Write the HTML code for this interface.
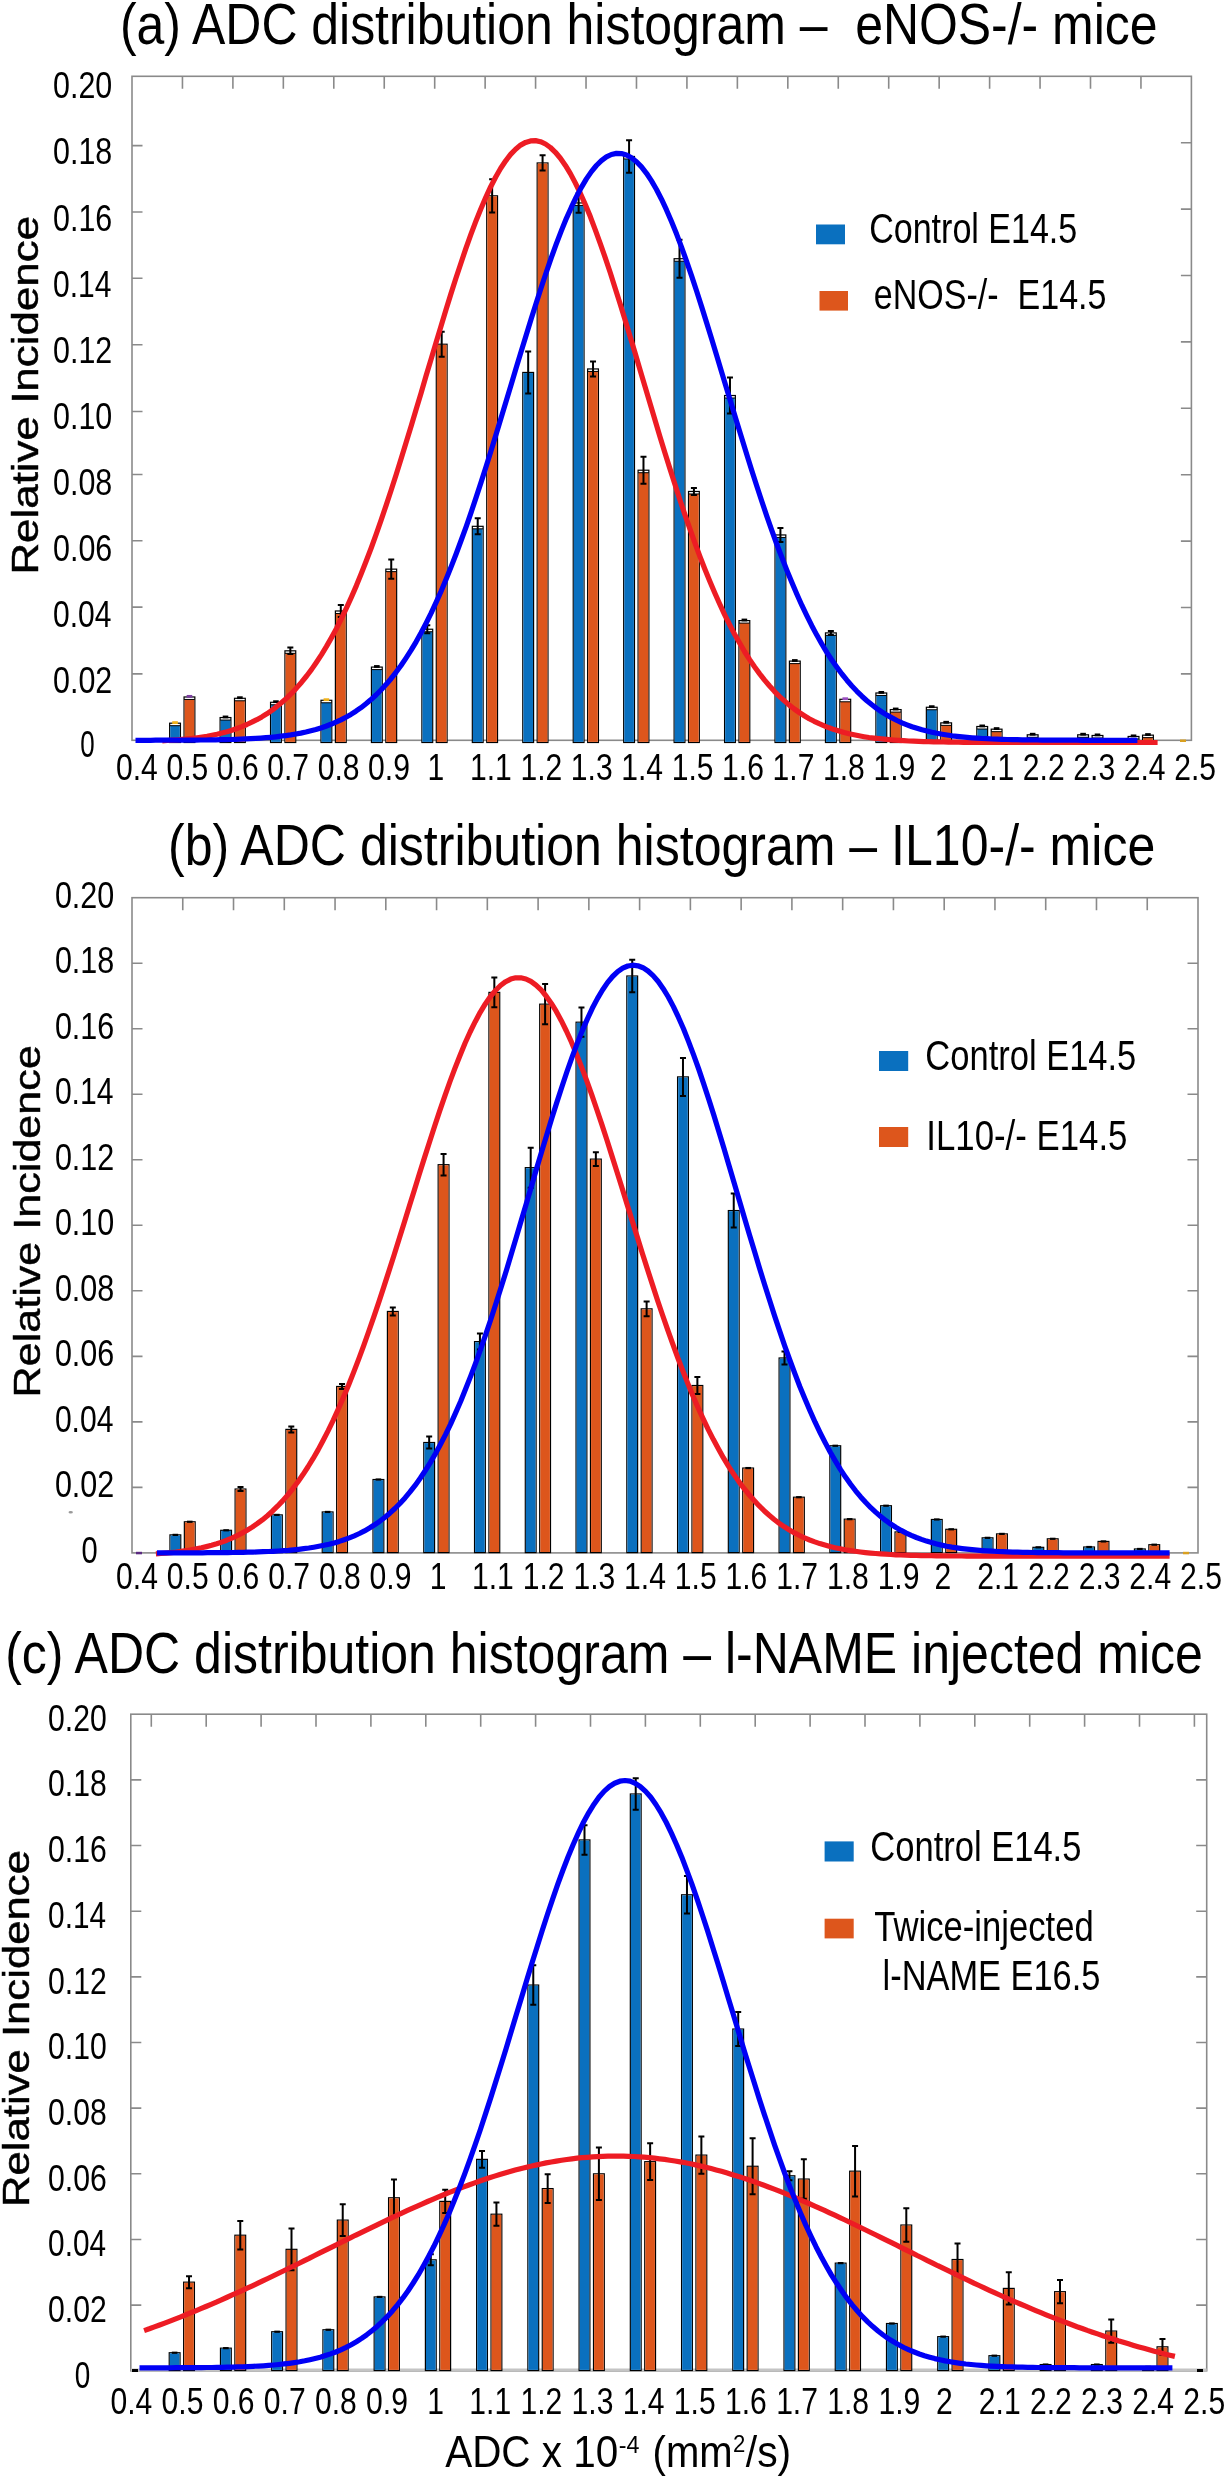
<!DOCTYPE html><html><head><meta charset="utf-8"><style>text{stroke:#fff;stroke-width:0px}text.bold{stroke:#000;stroke-width:0.45px}svg{will-change:transform}html,body{margin:0;padding:0;background:#fff;width:1230px;height:2480px;overflow:hidden;position:relative}</style></head><body><svg width="1230" height="2480" viewBox="0 0 1230 2480" style="position:absolute;left:0;top:0">
<rect width="100%" height="100%" fill="#fff"/>
<g style="font-family:'Liberation Sans', sans-serif">
<rect x="132" y="76.3" width="1059.4" height="664" fill="none" stroke="#8a8a8a" stroke-width="1.6"/>
<path d="M182.45,76.3v12.5M232.9,76.3v12.5M283.34,76.3v12.5M333.79,76.3v12.5M384.24,76.3v12.5M434.69,76.3v12.5M485.13,76.3v12.5M535.58,76.3v12.5M586.03,76.3v12.5M636.48,76.3v12.5M686.92,76.3v12.5M737.37,76.3v12.5M787.82,76.3v12.5M838.27,76.3v12.5M888.71,76.3v12.5M939.16,76.3v12.5M989.61,76.3v12.5M1040.06,76.3v12.5M1090.5,76.3v12.5M1140.95,76.3v12.5" stroke="#8a8a8a" stroke-width="1.6" fill="none"/>
<path d="M132,673.9h10.5M1191.4,673.9h-10.5M132,607.1h10.5M1191.4,607.5h-10.5M132,540.7h10.5M1191.4,541.1h-10.5M132,474.5h10.5M1191.4,474.7h-10.5M132,411.5h10.5M1191.4,408.3h-10.5M132,344.7h10.5M1191.4,341.9h-10.5M132,278.3h10.5M1191.4,275.5h-10.5M132,212h10.5M1191.4,209.1h-10.5M132,145.6h10.5M1191.4,142.7h-10.5" stroke="#8a8a8a" stroke-width="1.6" fill="none"/>
<rect x="169.65" y="723.19" width="10.8" height="19.31" fill="#fff" stroke="#000" stroke-width="1.2"/>
<rect x="170.25" y="725.69" width="9.6" height="16.21" fill="#0a70bf"/>
<line x1="169.65" x2="180.45" y1="725.69" y2="725.69" stroke="#000" stroke-width="1"/>
<path d="M172.25,722.59h5.6" stroke="#f0b21a" stroke-width="2.8" fill="none"/>
<rect x="184.05" y="696.96" width="10.8" height="45.54" fill="#fff" stroke="#000" stroke-width="1.2"/>
<rect x="184.65" y="699.46" width="9.6" height="42.44" fill="#dd561c"/>
<line x1="184.05" x2="194.85" y1="699.46" y2="699.46" stroke="#000" stroke-width="1"/>
<path d="M186.65,696.36h5.6" stroke="#7b3fa0" stroke-width="2.8" fill="none"/>
<rect x="220.1" y="717.55" width="10.8" height="24.95" fill="#fff" stroke="#000" stroke-width="1.2"/>
<rect x="220.7" y="720.05" width="9.6" height="21.85" fill="#0a70bf"/>
<line x1="220.1" x2="230.9" y1="720.05" y2="720.05" stroke="#000" stroke-width="1"/>
<path d="M222.7,716.95h5.6" stroke="#000" stroke-width="2.8" fill="none"/>
<rect x="234.5" y="698.29" width="10.8" height="44.21" fill="#fff" stroke="#000" stroke-width="1.2"/>
<rect x="235.1" y="700.79" width="9.6" height="41.11" fill="#dd561c"/>
<line x1="234.5" x2="245.3" y1="700.79" y2="700.79" stroke="#000" stroke-width="1"/>
<path d="M237.1,697.69h5.6" stroke="#000" stroke-width="2.8" fill="none"/>
<rect x="270.54" y="702.28" width="10.8" height="40.22" fill="#fff" stroke="#000" stroke-width="1.2"/>
<rect x="271.14" y="704.78" width="9.6" height="37.12" fill="#0a70bf"/>
<line x1="270.54" x2="281.34" y1="704.78" y2="704.78" stroke="#000" stroke-width="1"/>
<path d="M273.14,701.68h5.6" stroke="#000" stroke-width="2.8" fill="none"/>
<rect x="284.94" y="650.82" width="10.8" height="91.68" fill="#fff" stroke="#000" stroke-width="1.2"/>
<rect x="285.54" y="653.32" width="9.6" height="88.58" fill="#dd561c"/>
<line x1="284.94" x2="295.74" y1="653.32" y2="653.32" stroke="#000" stroke-width="1"/>
<path d="M290.34,647.62V654.02M287.34,647.62h6M287.34,654.02h6" stroke="#000" stroke-width="2" fill="none"/>
<rect x="320.99" y="700.28" width="10.8" height="42.22" fill="#fff" stroke="#000" stroke-width="1.2"/>
<rect x="321.59" y="702.78" width="9.6" height="39.12" fill="#0a70bf"/>
<line x1="320.99" x2="331.79" y1="702.78" y2="702.78" stroke="#000" stroke-width="1"/>
<path d="M323.59,699.68h5.6" stroke="#f0b21a" stroke-width="2.8" fill="none"/>
<rect x="335.39" y="610.98" width="10.8" height="131.52" fill="#fff" stroke="#000" stroke-width="1.2"/>
<rect x="335.99" y="613.48" width="9.6" height="128.42" fill="#dd561c"/>
<line x1="335.39" x2="346.19" y1="613.48" y2="613.48" stroke="#000" stroke-width="1"/>
<path d="M340.79,604.98V616.98M337.79,604.98h6M337.79,616.98h6" stroke="#000" stroke-width="2" fill="none"/>
<rect x="371.44" y="667.08" width="10.8" height="75.42" fill="#fff" stroke="#000" stroke-width="1.2"/>
<rect x="372.04" y="669.58" width="9.6" height="72.32" fill="#0a70bf"/>
<line x1="371.44" x2="382.24" y1="669.58" y2="669.58" stroke="#000" stroke-width="1"/>
<path d="M374.04,666.48h5.6" stroke="#000" stroke-width="2.8" fill="none"/>
<rect x="385.84" y="569.14" width="10.8" height="173.36" fill="#fff" stroke="#000" stroke-width="1.2"/>
<rect x="386.44" y="571.64" width="9.6" height="170.26" fill="#dd561c"/>
<line x1="385.84" x2="396.64" y1="571.64" y2="571.64" stroke="#000" stroke-width="1"/>
<path d="M391.24,559.44V578.84M388.24,559.44h6M388.24,578.84h6" stroke="#000" stroke-width="2" fill="none"/>
<rect x="421.89" y="629.24" width="10.8" height="113.26" fill="#fff" stroke="#000" stroke-width="1.2"/>
<rect x="422.49" y="631.74" width="9.6" height="110.16" fill="#0a70bf"/>
<line x1="421.89" x2="432.69" y1="631.74" y2="631.74" stroke="#000" stroke-width="1"/>
<path d="M427.29,625.24V633.24M424.29,625.24h6M424.29,633.24h6" stroke="#000" stroke-width="2" fill="none"/>
<rect x="436.29" y="344.22" width="10.8" height="398.28" fill="#fff" stroke="#000" stroke-width="1.2"/>
<rect x="436.89" y="344.82" width="9.6" height="397.08" fill="#dd561c"/>
<path d="M441.69,331.72V356.72M438.69,331.72h6M438.69,356.72h6" stroke="#000" stroke-width="2" fill="none"/>
<rect x="472.33" y="526.32" width="10.8" height="216.18" fill="#fff" stroke="#000" stroke-width="1.2"/>
<rect x="472.93" y="528.82" width="9.6" height="213.08" fill="#0a70bf"/>
<line x1="472.33" x2="483.13" y1="528.82" y2="528.82" stroke="#000" stroke-width="1"/>
<path d="M477.73,518.32V534.32M474.73,518.32h6M474.73,534.32h6" stroke="#000" stroke-width="2" fill="none"/>
<rect x="486.73" y="195.82" width="10.8" height="546.68" fill="#fff" stroke="#000" stroke-width="1.2"/>
<rect x="487.33" y="196.42" width="9.6" height="545.48" fill="#dd561c"/>
<path d="M492.13,179.22V212.42M489.13,179.22h6M489.13,212.42h6" stroke="#000" stroke-width="2" fill="none"/>
<rect x="522.78" y="372.44" width="10.8" height="370.06" fill="#fff" stroke="#000" stroke-width="1.2"/>
<rect x="523.38" y="373.04" width="9.6" height="368.86" fill="#0a70bf"/>
<path d="M528.18,351.44V393.44M525.18,351.44h6M525.18,393.44h6" stroke="#000" stroke-width="2" fill="none"/>
<rect x="537.18" y="162.95" width="10.8" height="579.55" fill="#fff" stroke="#000" stroke-width="1.2"/>
<rect x="537.78" y="163.55" width="9.6" height="578.35" fill="#dd561c"/>
<path d="M542.58,155.35V170.55M539.58,155.35h6M539.58,170.55h6" stroke="#000" stroke-width="2" fill="none"/>
<rect x="573.23" y="202.95" width="10.8" height="539.55" fill="#fff" stroke="#000" stroke-width="1.2"/>
<rect x="573.83" y="205.45" width="9.6" height="536.45" fill="#0a70bf"/>
<line x1="573.23" x2="584.03" y1="205.45" y2="205.45" stroke="#000" stroke-width="1"/>
<path d="M578.63,193.15V212.75M575.63,193.15h6M575.63,212.75h6" stroke="#000" stroke-width="2" fill="none"/>
<rect x="587.63" y="368.95" width="10.8" height="373.55" fill="#fff" stroke="#000" stroke-width="1.2"/>
<rect x="588.23" y="371.45" width="9.6" height="370.45" fill="#dd561c"/>
<line x1="587.63" x2="598.43" y1="371.45" y2="371.45" stroke="#000" stroke-width="1"/>
<path d="M593.03,361.45V376.45M590.03,361.45h6M590.03,376.45h6" stroke="#000" stroke-width="2" fill="none"/>
<rect x="623.68" y="156.47" width="10.8" height="586.03" fill="#fff" stroke="#000" stroke-width="1.2"/>
<rect x="624.28" y="158.97" width="9.6" height="582.93" fill="#0a70bf"/>
<line x1="623.68" x2="634.48" y1="158.97" y2="158.97" stroke="#000" stroke-width="1"/>
<path d="M629.08,140.17V172.77M626.08,140.17h6M626.08,172.77h6" stroke="#000" stroke-width="2" fill="none"/>
<rect x="638.08" y="470.21" width="10.8" height="272.29" fill="#fff" stroke="#000" stroke-width="1.2"/>
<rect x="638.68" y="472.71" width="9.6" height="269.19" fill="#dd561c"/>
<line x1="638.08" x2="648.88" y1="472.71" y2="472.71" stroke="#000" stroke-width="1"/>
<path d="M643.48,456.71V483.71M640.48,456.71h6M640.48,483.71h6" stroke="#000" stroke-width="2" fill="none"/>
<rect x="674.12" y="258.72" width="10.8" height="483.78" fill="#fff" stroke="#000" stroke-width="1.2"/>
<rect x="674.72" y="261.22" width="9.6" height="480.68" fill="#0a70bf"/>
<line x1="674.12" x2="684.92" y1="261.22" y2="261.22" stroke="#000" stroke-width="1"/>
<path d="M679.52,239.72V277.72M676.52,239.72h6M676.52,277.72h6" stroke="#000" stroke-width="2" fill="none"/>
<rect x="688.52" y="491.46" width="10.8" height="251.04" fill="#fff" stroke="#000" stroke-width="1.2"/>
<rect x="689.12" y="493.96" width="9.6" height="247.94" fill="#dd561c"/>
<line x1="688.52" x2="699.32" y1="493.96" y2="493.96" stroke="#000" stroke-width="1"/>
<path d="M693.92,487.96V494.96M690.92,487.96h6M690.92,494.96h6" stroke="#000" stroke-width="2" fill="none"/>
<rect x="724.57" y="395.51" width="10.8" height="346.99" fill="#fff" stroke="#000" stroke-width="1.2"/>
<rect x="725.17" y="398.01" width="9.6" height="343.89" fill="#0a70bf"/>
<line x1="724.57" x2="735.37" y1="398.01" y2="398.01" stroke="#000" stroke-width="1"/>
<path d="M729.97,377.51V413.51M726.97,377.51h6M726.97,413.51h6" stroke="#000" stroke-width="2" fill="none"/>
<rect x="738.97" y="620.6" width="10.8" height="121.9" fill="#fff" stroke="#000" stroke-width="1.2"/>
<rect x="739.57" y="623.1" width="9.6" height="118.8" fill="#dd561c"/>
<line x1="738.97" x2="749.77" y1="623.1" y2="623.1" stroke="#000" stroke-width="1"/>
<path d="M741.57,620h5.6" stroke="#000" stroke-width="2.8" fill="none"/>
<rect x="775.02" y="534.95" width="10.8" height="207.55" fill="#fff" stroke="#000" stroke-width="1.2"/>
<rect x="775.62" y="537.45" width="9.6" height="204.45" fill="#0a70bf"/>
<line x1="775.02" x2="785.82" y1="537.45" y2="537.45" stroke="#000" stroke-width="1"/>
<path d="M780.42,527.95V541.95M777.42,527.95h6M777.42,541.95h6" stroke="#000" stroke-width="2" fill="none"/>
<rect x="789.42" y="661.11" width="10.8" height="81.39" fill="#fff" stroke="#000" stroke-width="1.2"/>
<rect x="790.02" y="663.61" width="9.6" height="78.29" fill="#dd561c"/>
<line x1="789.42" x2="800.22" y1="663.61" y2="663.61" stroke="#000" stroke-width="1"/>
<path d="M792.02,660.51h5.6" stroke="#000" stroke-width="2.8" fill="none"/>
<rect x="825.47" y="632.89" width="10.8" height="109.61" fill="#fff" stroke="#000" stroke-width="1.2"/>
<rect x="826.07" y="635.39" width="9.6" height="106.51" fill="#0a70bf"/>
<line x1="825.47" x2="836.27" y1="635.39" y2="635.39" stroke="#000" stroke-width="1"/>
<path d="M830.87,630.89V634.89M827.87,630.89h6M827.87,634.89h6" stroke="#000" stroke-width="2" fill="none"/>
<rect x="839.87" y="699.29" width="10.8" height="43.21" fill="#fff" stroke="#000" stroke-width="1.2"/>
<rect x="840.47" y="701.79" width="9.6" height="40.11" fill="#dd561c"/>
<line x1="839.87" x2="850.67" y1="701.79" y2="701.79" stroke="#000" stroke-width="1"/>
<path d="M842.47,698.69h5.6" stroke="#9a4fc0" stroke-width="2.8" fill="none"/>
<rect x="875.91" y="692.98" width="10.8" height="49.52" fill="#fff" stroke="#000" stroke-width="1.2"/>
<rect x="876.51" y="695.48" width="9.6" height="46.42" fill="#0a70bf"/>
<line x1="875.91" x2="886.71" y1="695.48" y2="695.48" stroke="#000" stroke-width="1"/>
<path d="M878.51,692.38h5.6" stroke="#000" stroke-width="2.8" fill="none"/>
<rect x="890.31" y="709.58" width="10.8" height="32.92" fill="#fff" stroke="#000" stroke-width="1.2"/>
<rect x="890.91" y="712.08" width="9.6" height="29.82" fill="#dd561c"/>
<line x1="890.31" x2="901.11" y1="712.08" y2="712.08" stroke="#000" stroke-width="1"/>
<path d="M892.91,708.98h5.6" stroke="#000" stroke-width="2.8" fill="none"/>
<rect x="926.36" y="707.26" width="10.8" height="35.24" fill="#fff" stroke="#000" stroke-width="1.2"/>
<rect x="926.96" y="709.76" width="9.6" height="32.14" fill="#0a70bf"/>
<line x1="926.36" x2="937.16" y1="709.76" y2="709.76" stroke="#000" stroke-width="1"/>
<path d="M928.96,706.66h5.6" stroke="#000" stroke-width="2.8" fill="none"/>
<rect x="940.76" y="722.86" width="10.8" height="19.64" fill="#fff" stroke="#000" stroke-width="1.2"/>
<rect x="941.36" y="725.36" width="9.6" height="16.54" fill="#dd561c"/>
<line x1="940.76" x2="951.56" y1="725.36" y2="725.36" stroke="#000" stroke-width="1"/>
<path d="M943.36,722.26h5.6" stroke="#000" stroke-width="2.8" fill="none"/>
<rect x="976.81" y="726.51" width="10.8" height="15.99" fill="#fff" stroke="#000" stroke-width="1.2"/>
<rect x="977.41" y="729.01" width="9.6" height="12.89" fill="#0a70bf"/>
<line x1="976.81" x2="987.61" y1="729.01" y2="729.01" stroke="#000" stroke-width="1"/>
<path d="M979.41,725.91h5.6" stroke="#000" stroke-width="2.8" fill="none"/>
<rect x="991.21" y="729.17" width="10.8" height="13.33" fill="#fff" stroke="#000" stroke-width="1.2"/>
<rect x="991.81" y="731.67" width="9.6" height="10.23" fill="#dd561c"/>
<line x1="991.21" x2="1002.01" y1="731.67" y2="731.67" stroke="#000" stroke-width="1"/>
<path d="M993.81,728.57h5.6" stroke="#000" stroke-width="2.8" fill="none"/>
<rect x="1027.26" y="734.81" width="10.8" height="7.69" fill="#fff" stroke="#000" stroke-width="1.2"/>
<rect x="1027.86" y="737.31" width="9.6" height="4.59" fill="#0a70bf"/>
<line x1="1027.26" x2="1038.06" y1="737.31" y2="737.31" stroke="#000" stroke-width="1"/>
<path d="M1029.86,734.21h5.6" stroke="#000" stroke-width="2.8" fill="none"/>
<rect x="1077.7" y="734.81" width="10.8" height="7.69" fill="#fff" stroke="#000" stroke-width="1.2"/>
<rect x="1078.3" y="737.31" width="9.6" height="4.59" fill="#0a70bf"/>
<line x1="1077.7" x2="1088.5" y1="737.31" y2="737.31" stroke="#000" stroke-width="1"/>
<path d="M1080.3,734.21h5.6" stroke="#000" stroke-width="2.8" fill="none"/>
<rect x="1092.1" y="735.48" width="10.8" height="7.02" fill="#fff" stroke="#000" stroke-width="1.2"/>
<rect x="1092.7" y="737.98" width="9.6" height="3.92" fill="#dd561c"/>
<line x1="1092.1" x2="1102.9" y1="737.98" y2="737.98" stroke="#000" stroke-width="1"/>
<path d="M1094.7,734.88h5.6" stroke="#000" stroke-width="2.8" fill="none"/>
<rect x="1128.15" y="736.47" width="10.8" height="6.03" fill="#fff" stroke="#000" stroke-width="1.2"/>
<rect x="1128.75" y="738.97" width="9.6" height="2.93" fill="#0a70bf"/>
<line x1="1128.15" x2="1138.95" y1="738.97" y2="738.97" stroke="#000" stroke-width="1"/>
<path d="M1130.75,735.87h5.6" stroke="#000" stroke-width="2.8" fill="none"/>
<rect x="1142.55" y="735.14" width="10.8" height="7.36" fill="#fff" stroke="#000" stroke-width="1.2"/>
<rect x="1143.15" y="737.64" width="9.6" height="4.26" fill="#dd561c"/>
<line x1="1142.55" x2="1153.35" y1="737.64" y2="737.64" stroke="#000" stroke-width="1"/>
<path d="M1145.15,734.54h5.6" stroke="#000" stroke-width="2.8" fill="none"/>
<polyline points="162.3,740.8 167.2,740.5 172.2,740.2 177.2,739.8 182.2,739.4 187.2,738.9 192.1,738.4 197.1,737.7 202.1,737.0 207.1,736.2 212.0,735.2 217.0,734.2 222.0,733.0 227.0,731.7 231.9,730.2 236.9,728.5 241.9,726.6 246.9,724.5 251.8,722.2 256.8,719.7 261.8,716.9 266.8,713.8 271.8,710.4 276.7,706.6 281.7,702.5 286.7,698.1 291.7,693.2 296.6,687.9 301.6,682.2 306.6,676.0 311.6,669.4 316.5,662.2 321.5,654.6 326.5,646.4 331.5,637.6 336.5,628.4 341.4,618.5 346.4,608.1 351.4,597.1 356.4,585.6 361.3,573.5 366.3,560.8 371.3,547.7 376.3,533.9 381.2,519.8 386.2,505.1 391.2,490.0 396.2,474.5 401.1,458.7 406.1,442.6 411.1,426.2 416.1,409.6 421.1,392.9 426.0,376.1 431.0,359.4 436.0,342.7 441.0,326.2 445.9,309.9 450.9,293.9 455.9,278.3 460.9,263.2 465.8,248.6 470.8,234.6 475.8,221.4 480.8,209.0 485.8,197.4 490.7,186.7 495.7,177.0 500.7,168.3 505.7,160.8 510.6,154.4 515.6,149.2 520.6,145.1 525.6,142.4 530.5,140.9 535.5,140.6 540.5,141.7 545.5,144.0 550.4,147.5 555.4,152.3 560.4,158.2 565.4,165.4 570.4,173.6 575.3,182.9 580.3,193.2 585.3,204.5 590.3,216.6 595.2,229.6 600.2,243.3 605.2,257.6 610.2,272.5 615.1,288.0 620.1,303.8 625.1,320.0 630.1,336.5 635.1,353.1 640.0,369.8 645.0,386.6 650.0,403.3 655.0,420.0 659.9,436.4 664.9,452.7 669.9,468.6 674.9,484.2 679.8,499.5 684.8,514.3 689.8,528.7 694.8,542.6 699.7,555.9 704.7,568.8 709.7,581.1 714.7,592.8 719.7,604.0 724.6,614.7 729.6,624.7 734.6,634.2 739.6,643.1 744.5,651.5 749.5,659.4 754.5,666.7 759.5,673.6 764.4,679.9 769.4,685.8 774.4,691.3 779.4,696.3 784.4,700.9 789.3,705.1 794.3,709.0 799.3,712.5 804.3,715.7 809.2,718.7 814.2,721.3 819.2,723.7 824.2,725.9 829.1,727.8 834.1,729.6 839.1,731.1 844.1,732.5 849.0,733.7 854.0,734.8 859.0,735.8 864.0,736.7 869.0,737.5 873.9,738.1 878.9,738.7 883.9,739.2 888.9,739.7 893.8,740.1 898.8,740.4 903.8,740.7 908.8,741.0 913.7,741.2 918.7,741.4 923.7,741.6 928.7,741.7 933.7,741.8 938.6,741.9 943.6,742.0 948.6,742.1 953.6,742.2 958.5,742.2 963.5,742.3 968.5,742.3 973.5,742.3 978.4,742.4 983.4,742.4 988.4,742.4 993.4,742.4 998.3,742.4 1003.3,742.4 1008.3,742.4 1013.3,742.5 1018.3,742.5 1023.2,742.5 1028.2,742.5 1033.2,742.5 1038.2,742.5 1043.1,742.5 1048.1,742.5 1053.1,742.5 1058.1,742.5 1063.0,742.5 1068.0,742.5 1073.0,742.5 1078.0,742.5 1083.0,742.5 1087.9,742.5 1092.9,742.5 1097.9,742.5 1102.9,742.5 1107.8,742.5 1112.8,742.5 1117.8,742.5 1122.8,742.5 1127.7,742.5 1132.7,742.5 1137.7,742.5 1142.7,742.5 1147.6,742.5 1152.6,742.5 1157.6,742.5" fill="none" stroke="#ed1c24" stroke-width="5.2" stroke-linejoin="round" stroke-linecap="butt"/>
<polyline points="135.5,740.3 140.5,740.3 145.6,740.3 150.6,740.3 155.6,740.2 160.6,740.2 165.6,740.2 170.6,740.2 175.6,740.2 180.6,740.2 185.6,740.1 190.6,740.1 195.6,740.1 200.7,740.0 205.7,740.0 210.7,739.9 215.7,739.8 220.7,739.7 225.7,739.6 230.7,739.5 235.7,739.3 240.7,739.1 245.7,738.9 250.7,738.7 255.8,738.4 260.8,738.1 265.8,737.7 270.8,737.3 275.8,736.8 280.8,736.2 285.8,735.6 290.8,734.9 295.8,734.0 300.8,733.1 305.9,732.0 310.9,730.8 315.9,729.5 320.9,727.9 325.9,726.2 330.9,724.3 335.9,722.2 340.9,719.9 345.9,717.2 350.9,714.4 355.9,711.2 361.0,707.7 366.0,703.8 371.0,699.6 376.0,695.0 381.0,690.0 386.0,684.6 391.0,678.7 396.0,672.3 401.0,665.5 406.0,658.1 411.1,650.2 416.1,641.8 421.1,632.8 426.1,623.2 431.1,613.1 436.1,602.4 441.1,591.2 446.1,579.3 451.1,566.9 456.1,554.0 461.1,540.5 466.2,526.6 471.2,512.1 476.2,497.2 481.2,481.9 486.2,466.2 491.2,450.3 496.2,434.0 501.2,417.6 506.2,401.0 511.2,384.4 516.2,367.7 521.3,351.1 526.3,334.7 531.3,318.5 536.3,302.7 541.3,287.2 546.3,272.2 551.3,257.7 556.3,243.9 561.3,230.9 566.3,218.6 571.4,207.2 576.4,196.7 581.4,187.3 586.4,178.9 591.4,171.6 596.4,165.5 601.4,160.6 606.4,156.9 611.4,154.5 616.4,153.4 621.4,153.6 626.5,155.0 631.5,157.7 636.5,161.7 641.5,166.9 646.5,173.3 651.5,180.9 656.5,189.5 661.5,199.2 666.5,209.9 671.5,221.6 676.6,234.1 681.6,247.3 686.6,261.3 691.6,275.9 696.6,291.0 701.6,306.6 706.6,322.6 711.6,338.8 716.6,355.3 721.6,371.9 726.6,388.5 731.7,405.2 736.7,421.7 741.7,438.1 746.7,454.3 751.7,470.2 756.7,485.8 761.7,501.0 766.7,515.8 771.7,530.1 776.7,544.0 781.8,557.3 786.8,570.1 791.8,582.3 796.8,594.0 801.8,605.2 806.8,615.7 811.8,625.7 816.8,635.1 821.8,644.0 826.8,652.3 831.8,660.0 836.9,667.2 841.9,674.0 846.9,680.2 851.9,686.0 856.9,691.3 861.9,696.2 866.9,700.7 871.9,704.8 876.9,708.6 881.9,712.0 886.9,715.1 892.0,717.9 897.0,720.5 902.0,722.8 907.0,724.8 912.0,726.7 917.0,728.3 922.0,729.8 927.0,731.1 932.0,732.3 937.0,733.3 942.1,734.2 947.1,735.0 952.1,735.8 957.1,736.4 962.1,736.9 967.1,737.4 972.1,737.8 977.1,738.2 982.1,738.5 987.1,738.7 992.1,739.0 997.2,739.2 1002.2,739.4 1007.2,739.5 1012.2,739.6 1017.2,739.7 1022.2,739.8 1027.2,739.9 1032.2,740.0 1037.2,740.0 1042.2,740.1 1047.3,740.1 1052.3,740.1 1057.3,740.2 1062.3,740.2 1067.3,740.2 1072.3,740.2 1077.3,740.2 1082.3,740.3 1087.3,740.3 1092.3,740.3 1097.3,740.3 1102.4,740.3 1107.4,740.3 1112.4,740.3 1117.4,740.3 1122.4,740.3 1127.4,740.3 1132.4,740.3 1137.4,740.3" fill="none" stroke="#0000f5" stroke-width="5.2" stroke-linejoin="round" stroke-linecap="butt"/>
<rect x="816" y="224.5" width="29" height="19.8" fill="#0a70bf"/>
<text transform="translate(869.18,242.9) scale(0.8103,1)" font-size="42" fill="#000" >Control E14.5</text>
<rect x="819.5" y="291" width="28.5" height="19.6" fill="#dd561c"/>
<text transform="translate(873.78,309.3) scale(0.8109,1)" font-size="42" fill="#000" >eNOS-/- &#160;E14.5</text>
<rect x="132" y="897.7" width="1066" height="655.2" fill="none" stroke="#8a8a8a" stroke-width="1.6"/>
<path d="M182.76,897.7v12.5M233.52,897.7v12.5M284.29,897.7v12.5M335.05,897.7v12.5M385.81,897.7v12.5M436.57,897.7v12.5M487.33,897.7v12.5M538.1,897.7v12.5M588.86,897.7v12.5M639.62,897.7v12.5M690.38,897.7v12.5M741.14,897.7v12.5M791.9,897.7v12.5M842.67,897.7v12.5M893.43,897.7v12.5M944.19,897.7v12.5M994.95,897.7v12.5M1045.71,897.7v12.5M1096.48,897.7v12.5M1147.24,897.7v12.5" stroke="#8a8a8a" stroke-width="1.6" fill="none"/>
<path d="M132,1487.38h10.5M1198,1487.38h-10.5M132,1421.86h10.5M1198,1421.86h-10.5M132,1356.34h10.5M1198,1356.34h-10.5M132,1290.82h10.5M1198,1290.82h-10.5M132,1225.3h10.5M1198,1225.3h-10.5M132,1159.78h10.5M1198,1159.78h-10.5M132,1094.26h10.5M1198,1094.26h-10.5M132,1028.74h10.5M1198,1028.74h-10.5M132,963.22h10.5M1198,963.22h-10.5" stroke="#8a8a8a" stroke-width="1.6" fill="none"/>
<rect x="169.96" y="1534.88" width="10.8" height="17.72" fill="#fff" stroke="#000" stroke-width="1.2"/>
<rect x="170.56" y="1535.48" width="9.6" height="16.52" fill="#0a70bf"/>
<path d="M172.56,1534.88h5.6" stroke="#000" stroke-width="2.2" fill="none"/>
<rect x="184.36" y="1521.78" width="10.8" height="30.82" fill="#fff" stroke="#000" stroke-width="1.2"/>
<rect x="184.96" y="1522.38" width="9.6" height="29.62" fill="#dd561c"/>
<path d="M186.96,1521.78h5.6" stroke="#000" stroke-width="2.2" fill="none"/>
<rect x="220.72" y="1530.3" width="10.8" height="22.3" fill="#fff" stroke="#000" stroke-width="1.2"/>
<rect x="221.32" y="1530.9" width="9.6" height="21.1" fill="#0a70bf"/>
<path d="M223.32,1530.3h5.6" stroke="#000" stroke-width="2.2" fill="none"/>
<rect x="235.12" y="1489.02" width="10.8" height="63.58" fill="#fff" stroke="#000" stroke-width="1.2"/>
<rect x="235.72" y="1489.62" width="9.6" height="62.38" fill="#dd561c"/>
<path d="M240.52,1487.02V1491.02M237.52,1487.02h6M237.52,1491.02h6" stroke="#000" stroke-width="2" fill="none"/>
<rect x="271.49" y="1514.9" width="10.8" height="37.7" fill="#fff" stroke="#000" stroke-width="1.2"/>
<rect x="272.09" y="1515.5" width="9.6" height="36.5" fill="#0a70bf"/>
<path d="M274.09,1514.9h5.6" stroke="#000" stroke-width="2.2" fill="none"/>
<rect x="285.89" y="1429.39" width="10.8" height="123.21" fill="#fff" stroke="#000" stroke-width="1.2"/>
<rect x="286.49" y="1429.99" width="9.6" height="122.01" fill="#dd561c"/>
<path d="M291.29,1426.39V1432.39M288.29,1426.39h6M288.29,1432.39h6" stroke="#000" stroke-width="2" fill="none"/>
<rect x="322.25" y="1511.95" width="10.8" height="40.65" fill="#fff" stroke="#000" stroke-width="1.2"/>
<rect x="322.85" y="1512.55" width="9.6" height="39.45" fill="#0a70bf"/>
<path d="M324.85,1511.95h5.6" stroke="#000" stroke-width="2.2" fill="none"/>
<rect x="336.65" y="1386.48" width="10.8" height="166.12" fill="#fff" stroke="#000" stroke-width="1.2"/>
<rect x="337.25" y="1387.08" width="9.6" height="164.92" fill="#dd561c"/>
<path d="M342.05,1383.98V1388.98M339.05,1383.98h6M339.05,1388.98h6" stroke="#000" stroke-width="2" fill="none"/>
<rect x="373.01" y="1479.52" width="10.8" height="73.08" fill="#fff" stroke="#000" stroke-width="1.2"/>
<rect x="373.61" y="1480.12" width="9.6" height="71.88" fill="#0a70bf"/>
<path d="M375.61,1479.52h5.6" stroke="#000" stroke-width="2.2" fill="none"/>
<rect x="387.41" y="1311.46" width="10.8" height="241.14" fill="#fff" stroke="#000" stroke-width="1.2"/>
<rect x="388.01" y="1312.06" width="9.6" height="239.94" fill="#dd561c"/>
<path d="M392.81,1307.46V1315.46M389.81,1307.46h6M389.81,1315.46h6" stroke="#000" stroke-width="2" fill="none"/>
<rect x="423.77" y="1442.5" width="10.8" height="110.1" fill="#fff" stroke="#000" stroke-width="1.2"/>
<rect x="424.37" y="1443.1" width="9.6" height="108.9" fill="#0a70bf"/>
<path d="M429.17,1436.5V1448.5M426.17,1436.5h6M426.17,1448.5h6" stroke="#000" stroke-width="2" fill="none"/>
<rect x="438.17" y="1164.69" width="10.8" height="387.91" fill="#fff" stroke="#000" stroke-width="1.2"/>
<rect x="438.77" y="1165.29" width="9.6" height="386.71" fill="#dd561c"/>
<path d="M443.57,1153.99V1175.39M440.57,1153.99h6M440.57,1175.39h6" stroke="#000" stroke-width="2" fill="none"/>
<rect x="474.53" y="1341.6" width="10.8" height="211" fill="#fff" stroke="#000" stroke-width="1.2"/>
<rect x="475.13" y="1342.2" width="9.6" height="209.8" fill="#0a70bf"/>
<path d="M479.93,1333.6V1349.6M476.93,1333.6h6M476.93,1349.6h6" stroke="#000" stroke-width="2" fill="none"/>
<rect x="488.93" y="992.38" width="10.8" height="560.22" fill="#fff" stroke="#000" stroke-width="1.2"/>
<rect x="489.53" y="992.98" width="9.6" height="559.02" fill="#dd561c"/>
<path d="M494.33,977.58V1007.18M491.33,977.58h6M491.33,1007.18h6" stroke="#000" stroke-width="2" fill="none"/>
<rect x="525.3" y="1167.64" width="10.8" height="384.96" fill="#fff" stroke="#000" stroke-width="1.2"/>
<rect x="525.9" y="1168.24" width="9.6" height="383.76" fill="#0a70bf"/>
<path d="M530.7,1147.64V1187.64M527.7,1147.64h6M527.7,1187.64h6" stroke="#000" stroke-width="2" fill="none"/>
<rect x="539.7" y="1004.17" width="10.8" height="548.43" fill="#fff" stroke="#000" stroke-width="1.2"/>
<rect x="540.3" y="1004.77" width="9.6" height="547.23" fill="#dd561c"/>
<path d="M545.1,983.97V1024.37M542.1,983.97h6M542.1,1024.37h6" stroke="#000" stroke-width="2" fill="none"/>
<rect x="576.06" y="1022.19" width="10.8" height="530.41" fill="#fff" stroke="#000" stroke-width="1.2"/>
<rect x="576.66" y="1022.79" width="9.6" height="529.21" fill="#0a70bf"/>
<path d="M581.46,1007.59V1036.79M578.46,1007.59h6M578.46,1036.79h6" stroke="#000" stroke-width="2" fill="none"/>
<rect x="590.46" y="1159.12" width="10.8" height="393.48" fill="#fff" stroke="#000" stroke-width="1.2"/>
<rect x="591.06" y="1159.72" width="9.6" height="392.28" fill="#dd561c"/>
<path d="M595.86,1152.22V1166.02M592.86,1152.22h6M592.86,1166.02h6" stroke="#000" stroke-width="2" fill="none"/>
<rect x="626.82" y="976" width="10.8" height="576.6" fill="#fff" stroke="#000" stroke-width="1.2"/>
<rect x="627.42" y="976.6" width="9.6" height="575.4" fill="#0a70bf"/>
<path d="M632.22,959.8V992.2M629.22,959.8h6M629.22,992.2h6" stroke="#000" stroke-width="2" fill="none"/>
<rect x="641.22" y="1308.84" width="10.8" height="243.76" fill="#fff" stroke="#000" stroke-width="1.2"/>
<rect x="641.82" y="1309.44" width="9.6" height="242.56" fill="#dd561c"/>
<path d="M646.62,1301.54V1316.14M643.62,1301.54h6M643.62,1316.14h6" stroke="#000" stroke-width="2" fill="none"/>
<rect x="677.58" y="1076.9" width="10.8" height="475.7" fill="#fff" stroke="#000" stroke-width="1.2"/>
<rect x="678.18" y="1077.5" width="9.6" height="474.5" fill="#0a70bf"/>
<path d="M682.98,1057.9V1095.9M679.98,1057.9h6M679.98,1095.9h6" stroke="#000" stroke-width="2" fill="none"/>
<rect x="691.98" y="1385.5" width="10.8" height="167.1" fill="#fff" stroke="#000" stroke-width="1.2"/>
<rect x="692.58" y="1386.1" width="9.6" height="165.9" fill="#dd561c"/>
<path d="M697.38,1377V1394M694.38,1377h6M694.38,1394h6" stroke="#000" stroke-width="2" fill="none"/>
<rect x="728.34" y="1210.56" width="10.8" height="342.04" fill="#fff" stroke="#000" stroke-width="1.2"/>
<rect x="728.94" y="1211.16" width="9.6" height="340.84" fill="#0a70bf"/>
<path d="M733.74,1193.56V1227.56M730.74,1193.56h6M730.74,1227.56h6" stroke="#000" stroke-width="2" fill="none"/>
<rect x="742.74" y="1468.05" width="10.8" height="84.55" fill="#fff" stroke="#000" stroke-width="1.2"/>
<rect x="743.34" y="1468.65" width="9.6" height="83.35" fill="#dd561c"/>
<path d="M745.34,1468.05h5.6" stroke="#000" stroke-width="2.2" fill="none"/>
<rect x="779.1" y="1357.98" width="10.8" height="194.62" fill="#fff" stroke="#000" stroke-width="1.2"/>
<rect x="779.7" y="1358.58" width="9.6" height="193.42" fill="#0a70bf"/>
<path d="M784.5,1351.48V1364.48M781.5,1351.48h6M781.5,1364.48h6" stroke="#000" stroke-width="2" fill="none"/>
<rect x="793.5" y="1497.21" width="10.8" height="55.39" fill="#fff" stroke="#000" stroke-width="1.2"/>
<rect x="794.1" y="1497.81" width="9.6" height="54.19" fill="#dd561c"/>
<path d="M796.1,1497.21h5.6" stroke="#000" stroke-width="2.2" fill="none"/>
<rect x="829.87" y="1445.77" width="10.8" height="106.83" fill="#fff" stroke="#000" stroke-width="1.2"/>
<rect x="830.47" y="1446.37" width="9.6" height="105.63" fill="#0a70bf"/>
<path d="M832.47,1445.77h5.6" stroke="#000" stroke-width="2.2" fill="none"/>
<rect x="844.27" y="1519.16" width="10.8" height="33.44" fill="#fff" stroke="#000" stroke-width="1.2"/>
<rect x="844.87" y="1519.76" width="9.6" height="32.24" fill="#dd561c"/>
<path d="M846.87,1519.16h5.6" stroke="#000" stroke-width="2.2" fill="none"/>
<rect x="880.63" y="1505.73" width="10.8" height="46.87" fill="#fff" stroke="#000" stroke-width="1.2"/>
<rect x="881.23" y="1506.33" width="9.6" height="45.67" fill="#0a70bf"/>
<path d="M883.23,1505.73h5.6" stroke="#000" stroke-width="2.2" fill="none"/>
<rect x="895.03" y="1531.93" width="10.8" height="20.67" fill="#fff" stroke="#000" stroke-width="1.2"/>
<rect x="895.63" y="1532.53" width="9.6" height="19.47" fill="#dd561c"/>
<path d="M897.63,1531.93h5.6" stroke="#000" stroke-width="2.2" fill="none"/>
<rect x="931.39" y="1519.48" width="10.8" height="33.12" fill="#fff" stroke="#000" stroke-width="1.2"/>
<rect x="931.99" y="1520.08" width="9.6" height="31.92" fill="#0a70bf"/>
<path d="M933.99,1519.48h5.6" stroke="#000" stroke-width="2.2" fill="none"/>
<rect x="945.79" y="1529.31" width="10.8" height="23.29" fill="#fff" stroke="#000" stroke-width="1.2"/>
<rect x="946.39" y="1529.91" width="9.6" height="22.09" fill="#dd561c"/>
<path d="M948.39,1529.31h5.6" stroke="#000" stroke-width="2.2" fill="none"/>
<rect x="982.15" y="1537.83" width="10.8" height="14.77" fill="#fff" stroke="#000" stroke-width="1.2"/>
<rect x="982.75" y="1538.43" width="9.6" height="13.57" fill="#0a70bf"/>
<path d="M984.75,1537.83h5.6" stroke="#000" stroke-width="2.2" fill="none"/>
<rect x="996.55" y="1533.9" width="10.8" height="18.7" fill="#fff" stroke="#000" stroke-width="1.2"/>
<rect x="997.15" y="1534.5" width="9.6" height="17.5" fill="#dd561c"/>
<path d="M999.15,1533.9h5.6" stroke="#000" stroke-width="2.2" fill="none"/>
<rect x="1032.91" y="1547.33" width="10.8" height="5.27" fill="#fff" stroke="#000" stroke-width="1.2"/>
<rect x="1033.51" y="1547.93" width="9.6" height="4.07" fill="#0a70bf"/>
<path d="M1035.51,1547.33h5.6" stroke="#000" stroke-width="2.2" fill="none"/>
<rect x="1047.31" y="1538.81" width="10.8" height="13.79" fill="#fff" stroke="#000" stroke-width="1.2"/>
<rect x="1047.91" y="1539.41" width="9.6" height="12.59" fill="#dd561c"/>
<path d="M1049.91,1538.81h5.6" stroke="#000" stroke-width="2.2" fill="none"/>
<rect x="1083.68" y="1547" width="10.8" height="5.6" fill="#fff" stroke="#000" stroke-width="1.2"/>
<rect x="1084.28" y="1547.6" width="9.6" height="4.4" fill="#0a70bf"/>
<path d="M1086.28,1547h5.6" stroke="#000" stroke-width="2.2" fill="none"/>
<rect x="1098.08" y="1541.43" width="10.8" height="11.17" fill="#fff" stroke="#000" stroke-width="1.2"/>
<rect x="1098.68" y="1542.03" width="9.6" height="9.97" fill="#dd561c"/>
<path d="M1100.68,1541.43h5.6" stroke="#000" stroke-width="2.2" fill="none"/>
<rect x="1134.44" y="1548.97" width="10.8" height="3.63" fill="#fff" stroke="#000" stroke-width="1.2"/>
<rect x="1135.04" y="1549.57" width="9.6" height="2.43" fill="#0a70bf"/>
<path d="M1137.04,1548.97h5.6" stroke="#000" stroke-width="2.2" fill="none"/>
<rect x="1148.84" y="1544.71" width="10.8" height="7.89" fill="#fff" stroke="#000" stroke-width="1.2"/>
<rect x="1149.44" y="1545.31" width="9.6" height="6.69" fill="#dd561c"/>
<path d="M1151.44,1544.71h5.6" stroke="#000" stroke-width="2.2" fill="none"/>
<polyline points="155.9,1553.9 160.9,1553.5 166.0,1553.1 171.1,1552.6 176.1,1552.1 181.2,1551.4 186.3,1550.7 191.3,1549.8 196.4,1548.9 201.5,1547.8 206.5,1546.6 211.6,1545.3 216.7,1543.8 221.7,1542.1 226.8,1540.2 231.9,1538.1 237.0,1535.7 242.0,1533.1 247.1,1530.3 252.2,1527.1 257.2,1523.7 262.3,1519.9 267.4,1515.7 272.4,1511.2 277.5,1506.2 282.6,1500.9 287.6,1495.1 292.7,1488.8 297.8,1482.0 302.8,1474.8 307.9,1467.0 313.0,1458.7 318.1,1449.9 323.1,1440.5 328.2,1430.6 333.3,1420.1 338.3,1409.0 343.4,1397.4 348.5,1385.3 353.5,1372.6 358.6,1359.4 363.7,1345.7 368.7,1331.5 373.8,1316.9 378.9,1301.9 383.9,1286.6 389.0,1270.9 394.1,1255.0 399.1,1238.9 404.2,1222.7 409.3,1206.3 414.4,1190.0 419.4,1173.8 424.5,1157.6 429.6,1141.7 434.6,1126.2 439.7,1110.9 444.8,1096.2 449.8,1082.0 454.9,1068.4 460.0,1055.5 465.0,1043.3 470.1,1032.0 475.2,1021.7 480.2,1012.3 485.3,1003.9 490.4,996.6 495.5,990.5 500.5,985.5 505.6,981.7 510.7,979.1 515.7,977.8 520.8,977.8 525.9,979.0 530.9,981.4 536.0,985.1 541.1,989.9 546.1,996.0 551.2,1003.2 556.3,1011.4 561.3,1020.7 566.4,1031.0 571.5,1042.2 576.5,1054.3 581.6,1067.1 586.7,1080.6 591.8,1094.8 596.8,1109.5 601.9,1124.7 607.0,1140.3 612.0,1156.1 617.1,1172.2 622.2,1188.5 627.2,1204.8 632.3,1221.1 637.4,1237.4 642.4,1253.5 647.5,1269.4 652.6,1285.1 657.6,1300.5 662.7,1315.5 667.8,1330.1 672.9,1344.4 677.9,1358.1 683.0,1371.3 688.1,1384.1 693.1,1396.3 698.2,1408.0 703.3,1419.1 708.3,1429.6 713.4,1439.6 718.5,1449.0 723.5,1457.9 728.6,1466.3 733.7,1474.1 738.7,1481.4 743.8,1488.2 748.9,1494.5 754.0,1500.3 759.0,1505.7 764.1,1510.7 769.2,1515.3 774.2,1519.5 779.3,1523.3 784.4,1526.8 789.4,1530.0 794.5,1532.9 799.6,1535.5 804.6,1537.9 809.7,1540.0 814.8,1541.9 819.8,1543.6 824.9,1545.1 830.0,1546.5 835.0,1547.7 840.1,1548.8 845.2,1549.8 850.3,1550.6 855.3,1551.3 860.4,1552.0 865.5,1552.6 870.5,1553.1 875.6,1553.5 880.7,1553.9 885.7,1554.2 890.8,1554.5 895.9,1554.8 900.9,1555.0 906.0,1555.1 911.1,1555.3 916.1,1555.4 921.2,1555.6 926.3,1555.7 931.4,1555.7 936.4,1555.8 941.5,1555.9 946.6,1555.9 951.6,1556.0 956.7,1556.0 961.8,1556.0 966.8,1556.1 971.9,1556.1 977.0,1556.1 982.0,1556.1 987.1,1556.1 992.2,1556.1 997.2,1556.1 1002.3,1556.1 1007.4,1556.2 1012.4,1556.2 1017.5,1556.2 1022.6,1556.2 1027.7,1556.2 1032.7,1556.2 1037.8,1556.2 1042.9,1556.2 1047.9,1556.2 1053.0,1556.2 1058.1,1556.2 1063.1,1556.2 1068.2,1556.2 1073.3,1556.2 1078.3,1556.2 1083.4,1556.2 1088.5,1556.2 1093.5,1556.2 1098.6,1556.2 1103.7,1556.2 1108.8,1556.2 1113.8,1556.2 1118.9,1556.2 1124.0,1556.2 1129.0,1556.2 1134.1,1556.2 1139.2,1556.2 1144.2,1556.2 1149.3,1556.2 1154.4,1556.2 1159.4,1556.2 1164.5,1556.2 1169.6,1556.2" fill="none" stroke="#ed1c24" stroke-width="5.2" stroke-linejoin="round" stroke-linecap="butt"/>
<polyline points="156.9,1552.9 161.9,1552.9 167.0,1552.9 172.1,1552.9 177.1,1552.9 182.2,1552.8 187.3,1552.8 192.3,1552.8 197.4,1552.8 202.4,1552.8 207.5,1552.7 212.6,1552.7 217.6,1552.7 222.7,1552.6 227.8,1552.6 232.8,1552.5 237.9,1552.4 243.0,1552.3 248.0,1552.2 253.1,1552.1 258.1,1551.9 263.2,1551.7 268.3,1551.5 273.3,1551.3 278.4,1551.0 283.5,1550.6 288.5,1550.3 293.6,1549.8 298.7,1549.3 303.7,1548.7 308.8,1548.0 313.8,1547.2 318.9,1546.3 324.0,1545.3 329.0,1544.2 334.1,1542.9 339.2,1541.4 344.2,1539.7 349.3,1537.9 354.3,1535.8 359.4,1533.5 364.5,1530.9 369.5,1528.0 374.6,1524.8 379.7,1521.3 384.7,1517.5 389.8,1513.2 394.9,1508.5 399.9,1503.5 405.0,1497.9 410.0,1491.9 415.1,1485.4 420.2,1478.3 425.2,1470.7 430.3,1462.6 435.4,1453.8 440.4,1444.5 445.5,1434.6 450.6,1424.1 455.6,1412.9 460.7,1401.2 465.7,1388.8 470.8,1375.9 475.9,1362.3 480.9,1348.3 486.0,1333.6 491.1,1318.5 496.1,1303.0 501.2,1287.0 506.3,1270.7 511.3,1254.0 516.4,1237.1 521.4,1220.0 526.5,1202.9 531.6,1185.7 536.6,1168.5 541.7,1151.5 546.8,1134.7 551.8,1118.2 556.9,1102.1 562.0,1086.5 567.0,1071.5 572.1,1057.2 577.1,1043.6 582.2,1030.9 587.3,1019.1 592.3,1008.3 597.4,998.6 602.5,990.0 607.5,982.6 612.6,976.5 617.7,971.7 622.7,968.2 627.8,966.0 632.8,965.2 637.9,965.8 643.0,967.7 648.0,971.0 653.1,975.6 658.2,981.5 663.2,988.7 668.3,997.0 673.4,1006.6 678.4,1017.2 683.5,1028.8 688.5,1041.4 693.6,1054.8 698.7,1069.0 703.7,1083.9 708.8,1099.4 713.9,1115.4 718.9,1131.8 724.0,1148.6 729.0,1165.6 734.1,1182.7 739.2,1199.9 744.2,1217.1 749.3,1234.2 754.4,1251.1 759.4,1267.8 764.5,1284.2 769.6,1300.3 774.6,1315.9 779.7,1331.1 784.7,1345.8 789.8,1360.0 794.9,1373.6 799.9,1386.7 805.0,1399.1 810.1,1411.0 815.1,1422.2 820.2,1432.8 825.3,1442.9 830.3,1452.3 835.4,1461.1 840.4,1469.4 845.5,1477.1 850.6,1484.2 855.6,1490.8 860.7,1496.9 865.8,1502.5 870.8,1507.7 875.9,1512.4 881.0,1516.8 886.0,1520.7 891.1,1524.3 896.1,1527.5 901.2,1530.4 906.3,1533.1 911.3,1535.4 916.4,1537.5 921.5,1539.4 926.5,1541.1 931.6,1542.6 936.7,1543.9 941.7,1545.1 946.8,1546.2 951.8,1547.1 956.9,1547.9 962.0,1548.6 967.0,1549.2 972.1,1549.7 977.2,1550.2 982.2,1550.6 987.3,1550.9 992.4,1551.2 997.4,1551.5 1002.5,1551.7 1007.5,1551.9 1012.6,1552.1 1017.7,1552.2 1022.7,1552.3 1027.8,1552.4 1032.9,1552.5 1037.9,1552.6 1043.0,1552.6 1048.0,1552.7 1053.1,1552.7 1058.2,1552.7 1063.2,1552.8 1068.3,1552.8 1073.4,1552.8 1078.4,1552.8 1083.5,1552.8 1088.6,1552.9 1093.6,1552.9 1098.7,1552.9 1103.7,1552.9 1108.8,1552.9 1113.9,1552.9 1118.9,1552.9 1124.0,1552.9 1129.1,1552.9 1134.1,1552.9 1139.2,1552.9 1144.3,1552.9 1149.3,1552.9 1154.4,1552.9 1159.4,1552.9 1164.5,1552.9 1169.6,1552.9" fill="none" stroke="#0000f5" stroke-width="5.2" stroke-linejoin="round" stroke-linecap="butt"/>
<rect x="879" y="1051" width="29.2" height="20" fill="#0a70bf"/>
<text transform="translate(925.36,1070.2) scale(0.8217,1)" font-size="42" fill="#000" >Control E14.5</text>
<rect x="879" y="1127" width="29.2" height="20" fill="#dd561c"/>
<text transform="translate(926.29,1150.2) scale(0.8287,1)" font-size="42" fill="#000" >IL10-/- E14.5</text>
<rect x="130.8" y="1714.2" width="1075.9" height="656.6" fill="none" stroke="#8a8a8a" stroke-width="1.6"/>
<line x1="130.8" x2="1206.7" y1="2369.8" y2="2369.8" stroke="#c4c4c4" stroke-width="2.6"/>
<path d="M151.3,1714.2v12.5M206.2,1714.2v12.5M261.1,1714.2v12.5M316,1714.2v12.5M370.9,1714.2v12.5M425.8,1714.2v12.5M480.7,1714.2v12.5M535.6,1714.2v12.5M590.5,1714.2v12.5M645.4,1714.2v12.5M700.3,1714.2v12.5M755.2,1714.2v12.5M810.1,1714.2v12.5M865,1714.2v12.5M919.9,1714.2v12.5M974.8,1714.2v12.5M1029.7,1714.2v12.5M1084.6,1714.2v12.5M1139.5,1714.2v12.5M1194.4,1714.2v12.5" stroke="#8a8a8a" stroke-width="1.6" fill="none"/>
<path d="M130.8,2305.14h10.5M1206.7,2305.14h-10.5M130.8,2239.48h10.5M1206.7,2239.48h-10.5M130.8,2173.82h10.5M1206.7,2173.82h-10.5M130.8,2108.16h10.5M1206.7,2108.16h-10.5M130.8,2042.5h10.5M1206.7,2042.5h-10.5M130.8,1976.84h10.5M1206.7,1976.84h-10.5M130.8,1911.18h10.5M1206.7,1911.18h-10.5M130.8,1845.52h10.5M1206.7,1845.52h-10.5M130.8,1779.86h10.5M1206.7,1779.86h-10.5" stroke="#8a8a8a" stroke-width="1.6" fill="none"/>
<rect x="169.23" y="2352.74" width="10.8" height="17.76" fill="#fff" stroke="#000" stroke-width="1.2"/>
<rect x="169.83" y="2353.34" width="9.6" height="16.56" fill="#0a70bf"/>
<path d="M171.83,2352.74h5.6" stroke="#000" stroke-width="2.2" fill="none"/>
<rect x="183.63" y="2282.16" width="10.8" height="88.34" fill="#fff" stroke="#000" stroke-width="1.2"/>
<rect x="184.23" y="2282.76" width="9.6" height="87.14" fill="#dd561c"/>
<path d="M189.03,2276.16V2288.16M186.03,2276.16h6M186.03,2288.16h6" stroke="#000" stroke-width="2" fill="none"/>
<rect x="220.47" y="2348.15" width="10.8" height="22.35" fill="#fff" stroke="#000" stroke-width="1.2"/>
<rect x="221.07" y="2348.75" width="9.6" height="21.15" fill="#0a70bf"/>
<path d="M223.07,2348.15h5.6" stroke="#000" stroke-width="2.2" fill="none"/>
<rect x="234.87" y="2235.21" width="10.8" height="135.29" fill="#fff" stroke="#000" stroke-width="1.2"/>
<rect x="235.47" y="2235.81" width="9.6" height="134.09" fill="#dd561c"/>
<path d="M240.27,2220.91V2249.51M237.27,2220.91h6M237.27,2249.51h6" stroke="#000" stroke-width="2" fill="none"/>
<rect x="271.7" y="2331.73" width="10.8" height="38.77" fill="#fff" stroke="#000" stroke-width="1.2"/>
<rect x="272.3" y="2332.33" width="9.6" height="37.57" fill="#0a70bf"/>
<path d="M274.3,2331.73h5.6" stroke="#000" stroke-width="2.2" fill="none"/>
<rect x="286.1" y="2249.33" width="10.8" height="121.17" fill="#fff" stroke="#000" stroke-width="1.2"/>
<rect x="286.7" y="2249.93" width="9.6" height="119.97" fill="#dd561c"/>
<path d="M291.5,2228.53V2270.13M288.5,2228.53h6M288.5,2270.13h6" stroke="#000" stroke-width="2" fill="none"/>
<rect x="322.93" y="2329.76" width="10.8" height="40.74" fill="#fff" stroke="#000" stroke-width="1.2"/>
<rect x="323.53" y="2330.36" width="9.6" height="39.54" fill="#0a70bf"/>
<path d="M325.53,2329.76h5.6" stroke="#000" stroke-width="2.2" fill="none"/>
<rect x="337.33" y="2220.11" width="10.8" height="150.39" fill="#fff" stroke="#000" stroke-width="1.2"/>
<rect x="337.93" y="2220.71" width="9.6" height="149.19" fill="#dd561c"/>
<path d="M342.73,2204.31V2235.91M339.73,2204.31h6M339.73,2235.91h6" stroke="#000" stroke-width="2" fill="none"/>
<rect x="374.17" y="2296.93" width="10.8" height="73.57" fill="#fff" stroke="#000" stroke-width="1.2"/>
<rect x="374.77" y="2297.53" width="9.6" height="72.37" fill="#0a70bf"/>
<path d="M376.77,2296.93h5.6" stroke="#000" stroke-width="2.2" fill="none"/>
<rect x="388.57" y="2197.79" width="10.8" height="172.71" fill="#fff" stroke="#000" stroke-width="1.2"/>
<rect x="389.17" y="2198.39" width="9.6" height="171.51" fill="#dd561c"/>
<path d="M393.97,2179.59V2215.99M390.97,2179.59h6M390.97,2215.99h6" stroke="#000" stroke-width="2" fill="none"/>
<rect x="425.4" y="2259.83" width="10.8" height="110.67" fill="#fff" stroke="#000" stroke-width="1.2"/>
<rect x="426" y="2260.43" width="9.6" height="109.47" fill="#0a70bf"/>
<path d="M430.8,2254.33V2265.33M427.8,2254.33h6M427.8,2265.33h6" stroke="#000" stroke-width="2" fill="none"/>
<rect x="439.8" y="2201.4" width="10.8" height="169.1" fill="#fff" stroke="#000" stroke-width="1.2"/>
<rect x="440.4" y="2202" width="9.6" height="167.9" fill="#dd561c"/>
<path d="M445.2,2189.8V2213M442.2,2189.8h6M442.2,2213h6" stroke="#000" stroke-width="2" fill="none"/>
<rect x="476.63" y="2159.37" width="10.8" height="211.13" fill="#fff" stroke="#000" stroke-width="1.2"/>
<rect x="477.23" y="2159.97" width="9.6" height="209.93" fill="#0a70bf"/>
<path d="M482.03,2151.07V2167.67M479.03,2151.07h6M479.03,2167.67h6" stroke="#000" stroke-width="2" fill="none"/>
<rect x="491.03" y="2214.2" width="10.8" height="156.3" fill="#fff" stroke="#000" stroke-width="1.2"/>
<rect x="491.63" y="2214.8" width="9.6" height="155.1" fill="#dd561c"/>
<path d="M496.43,2202.6V2225.8M493.43,2202.6h6M493.43,2225.8h6" stroke="#000" stroke-width="2" fill="none"/>
<rect x="527.87" y="1985.05" width="10.8" height="385.45" fill="#fff" stroke="#000" stroke-width="1.2"/>
<rect x="528.47" y="1985.65" width="9.6" height="384.25" fill="#0a70bf"/>
<path d="M533.27,1965.35V2004.75M530.27,1965.35h6M530.27,2004.75h6" stroke="#000" stroke-width="2" fill="none"/>
<rect x="542.27" y="2188.59" width="10.8" height="181.91" fill="#fff" stroke="#000" stroke-width="1.2"/>
<rect x="542.87" y="2189.19" width="9.6" height="180.71" fill="#dd561c"/>
<path d="M547.67,2174.29V2202.89M544.67,2174.29h6M544.67,2202.89h6" stroke="#000" stroke-width="2" fill="none"/>
<rect x="579.1" y="1839.94" width="10.8" height="530.56" fill="#fff" stroke="#000" stroke-width="1.2"/>
<rect x="579.7" y="1840.54" width="9.6" height="529.36" fill="#0a70bf"/>
<path d="M584.5,1825.24V1854.64M581.5,1825.24h6M581.5,1854.64h6" stroke="#000" stroke-width="2" fill="none"/>
<rect x="593.5" y="2173.82" width="10.8" height="196.68" fill="#fff" stroke="#000" stroke-width="1.2"/>
<rect x="594.1" y="2174.42" width="9.6" height="195.48" fill="#dd561c"/>
<path d="M598.9,2147.52V2200.12M595.9,2147.52h6M595.9,2200.12h6" stroke="#000" stroke-width="2" fill="none"/>
<rect x="630.33" y="1793.98" width="10.8" height="576.52" fill="#fff" stroke="#000" stroke-width="1.2"/>
<rect x="630.93" y="1794.58" width="9.6" height="575.32" fill="#0a70bf"/>
<path d="M635.73,1778.18V1809.78M632.73,1778.18h6M632.73,1809.78h6" stroke="#000" stroke-width="2" fill="none"/>
<rect x="644.73" y="2161.67" width="10.8" height="208.83" fill="#fff" stroke="#000" stroke-width="1.2"/>
<rect x="645.33" y="2162.27" width="9.6" height="207.63" fill="#dd561c"/>
<path d="M650.13,2143.27V2180.07M647.13,2143.27h6M647.13,2180.07h6" stroke="#000" stroke-width="2" fill="none"/>
<rect x="681.57" y="1894.77" width="10.8" height="475.73" fill="#fff" stroke="#000" stroke-width="1.2"/>
<rect x="682.17" y="1895.37" width="9.6" height="474.53" fill="#0a70bf"/>
<path d="M686.97,1875.97V1913.57M683.97,1875.97h6M683.97,1913.57h6" stroke="#000" stroke-width="2" fill="none"/>
<rect x="695.97" y="2155.11" width="10.8" height="215.39" fill="#fff" stroke="#000" stroke-width="1.2"/>
<rect x="696.57" y="2155.71" width="9.6" height="214.19" fill="#dd561c"/>
<path d="M701.37,2136.51V2173.71M698.37,2136.51h6M698.37,2173.71h6" stroke="#000" stroke-width="2" fill="none"/>
<rect x="732.8" y="2029.04" width="10.8" height="341.46" fill="#fff" stroke="#000" stroke-width="1.2"/>
<rect x="733.4" y="2029.64" width="9.6" height="340.26" fill="#0a70bf"/>
<path d="M738.2,2012.04V2046.04M735.2,2012.04h6M735.2,2046.04h6" stroke="#000" stroke-width="2" fill="none"/>
<rect x="747.2" y="2166.27" width="10.8" height="204.23" fill="#fff" stroke="#000" stroke-width="1.2"/>
<rect x="747.8" y="2166.87" width="9.6" height="203.03" fill="#dd561c"/>
<path d="M752.6,2138.27V2194.27M749.6,2138.27h6M749.6,2194.27h6" stroke="#000" stroke-width="2" fill="none"/>
<rect x="784.03" y="2175.79" width="10.8" height="194.71" fill="#fff" stroke="#000" stroke-width="1.2"/>
<rect x="784.63" y="2176.39" width="9.6" height="193.51" fill="#0a70bf"/>
<path d="M789.43,2171.29V2180.29M786.43,2171.29h6M786.43,2180.29h6" stroke="#000" stroke-width="2" fill="none"/>
<rect x="798.43" y="2179.07" width="10.8" height="191.43" fill="#fff" stroke="#000" stroke-width="1.2"/>
<rect x="799.03" y="2179.67" width="9.6" height="190.23" fill="#dd561c"/>
<path d="M803.83,2159.37V2198.77M800.83,2159.37h6M800.83,2198.77h6" stroke="#000" stroke-width="2" fill="none"/>
<rect x="835.27" y="2263.12" width="10.8" height="107.38" fill="#fff" stroke="#000" stroke-width="1.2"/>
<rect x="835.87" y="2263.72" width="9.6" height="106.18" fill="#0a70bf"/>
<path d="M837.87,2263.12h5.6" stroke="#000" stroke-width="2.2" fill="none"/>
<rect x="849.67" y="2171.19" width="10.8" height="199.31" fill="#fff" stroke="#000" stroke-width="1.2"/>
<rect x="850.27" y="2171.79" width="9.6" height="198.11" fill="#dd561c"/>
<path d="M855.07,2145.89V2196.49M852.07,2145.89h6M852.07,2196.49h6" stroke="#000" stroke-width="2" fill="none"/>
<rect x="886.5" y="2323.52" width="10.8" height="46.98" fill="#fff" stroke="#000" stroke-width="1.2"/>
<rect x="887.1" y="2324.12" width="9.6" height="45.78" fill="#0a70bf"/>
<path d="M889.1,2323.52h5.6" stroke="#000" stroke-width="2.2" fill="none"/>
<rect x="900.9" y="2225.03" width="10.8" height="145.47" fill="#fff" stroke="#000" stroke-width="1.2"/>
<rect x="901.5" y="2225.63" width="9.6" height="144.27" fill="#dd561c"/>
<path d="M906.3,2208.23V2241.83M903.3,2208.23h6M903.3,2241.83h6" stroke="#000" stroke-width="2" fill="none"/>
<rect x="937.73" y="2336.66" width="10.8" height="33.84" fill="#fff" stroke="#000" stroke-width="1.2"/>
<rect x="938.33" y="2337.26" width="9.6" height="32.64" fill="#0a70bf"/>
<path d="M940.33,2336.66h5.6" stroke="#000" stroke-width="2.2" fill="none"/>
<rect x="952.13" y="2259.51" width="10.8" height="110.99" fill="#fff" stroke="#000" stroke-width="1.2"/>
<rect x="952.73" y="2260.11" width="9.6" height="109.79" fill="#dd561c"/>
<path d="M957.53,2243.41V2275.61M954.53,2243.41h6M954.53,2275.61h6" stroke="#000" stroke-width="2" fill="none"/>
<rect x="988.97" y="2355.7" width="10.8" height="14.8" fill="#fff" stroke="#000" stroke-width="1.2"/>
<rect x="989.57" y="2356.3" width="9.6" height="13.6" fill="#0a70bf"/>
<path d="M991.57,2355.7h5.6" stroke="#000" stroke-width="2.2" fill="none"/>
<rect x="1003.37" y="2288.4" width="10.8" height="82.1" fill="#fff" stroke="#000" stroke-width="1.2"/>
<rect x="1003.97" y="2289" width="9.6" height="80.9" fill="#dd561c"/>
<path d="M1008.77,2272.3V2304.5M1005.77,2272.3h6M1005.77,2304.5h6" stroke="#000" stroke-width="2" fill="none"/>
<rect x="1040.2" y="2364.56" width="10.8" height="5.94" fill="#fff" stroke="#000" stroke-width="1.2"/>
<rect x="1040.8" y="2365.16" width="9.6" height="4.74" fill="#0a70bf"/>
<path d="M1042.8,2364.56h5.6" stroke="#000" stroke-width="2.2" fill="none"/>
<rect x="1054.6" y="2291.68" width="10.8" height="78.82" fill="#fff" stroke="#000" stroke-width="1.2"/>
<rect x="1055.2" y="2292.28" width="9.6" height="77.62" fill="#dd561c"/>
<path d="M1060,2280.08V2303.28M1057,2280.08h6M1057,2303.28h6" stroke="#000" stroke-width="2" fill="none"/>
<rect x="1091.43" y="2364.56" width="10.8" height="5.94" fill="#fff" stroke="#000" stroke-width="1.2"/>
<rect x="1092.03" y="2365.16" width="9.6" height="4.74" fill="#0a70bf"/>
<path d="M1094.03,2364.56h5.6" stroke="#000" stroke-width="2.2" fill="none"/>
<rect x="1105.83" y="2331.08" width="10.8" height="39.42" fill="#fff" stroke="#000" stroke-width="1.2"/>
<rect x="1106.43" y="2331.68" width="9.6" height="38.22" fill="#dd561c"/>
<path d="M1111.23,2319.48V2342.68M1108.23,2319.48h6M1108.23,2342.68h6" stroke="#000" stroke-width="2" fill="none"/>
<rect x="1142.67" y="2366.86" width="10.8" height="3.64" fill="#fff" stroke="#000" stroke-width="1.2"/>
<rect x="1143.27" y="2367.46" width="9.6" height="2.44" fill="#0a70bf"/>
<path d="M1145.27,2366.86h5.6" stroke="#000" stroke-width="2.2" fill="none"/>
<rect x="1157.07" y="2346.83" width="10.8" height="23.67" fill="#fff" stroke="#000" stroke-width="1.2"/>
<rect x="1157.67" y="2347.43" width="9.6" height="22.47" fill="#dd561c"/>
<path d="M1162.47,2339.03V2354.63M1159.47,2339.03h6M1159.47,2354.63h6" stroke="#000" stroke-width="2" fill="none"/>
<polyline points="144.1,2330.6 149.3,2328.8 154.4,2326.9 159.6,2325.0 164.7,2323.1 169.9,2321.1 175.0,2319.1 180.2,2317.1 185.4,2315.0 190.5,2312.9 195.7,2310.8 200.8,2308.7 206.0,2306.5 211.1,2304.3 216.3,2302.1 221.4,2299.8 226.6,2297.5 231.7,2295.2 236.9,2292.9 242.0,2290.6 247.2,2288.2 252.4,2285.8 257.5,2283.4 262.7,2280.9 267.8,2278.5 273.0,2276.0 278.1,2273.5 283.3,2271.0 288.4,2268.5 293.6,2266.0 298.7,2263.5 303.9,2260.9 309.1,2258.4 314.2,2255.8 319.4,2253.2 324.5,2250.7 329.7,2248.1 334.8,2245.6 340.0,2243.0 345.1,2240.4 350.3,2237.9 355.4,2235.3 360.6,2232.8 365.7,2230.3 370.9,2227.8 376.1,2225.3 381.2,2222.8 386.4,2220.3 391.5,2217.9 396.7,2215.5 401.8,2213.1 407.0,2210.7 412.1,2208.4 417.3,2206.1 422.4,2203.8 427.6,2201.5 432.7,2199.3 437.9,2197.1 443.1,2195.0 448.2,2192.9 453.4,2190.9 458.5,2188.9 463.7,2186.9 468.8,2185.0 474.0,2183.1 479.1,2181.3 484.3,2179.5 489.4,2177.8 494.6,2176.1 499.8,2174.5 504.9,2173.0 510.1,2171.5 515.2,2170.1 520.4,2168.7 525.5,2167.5 530.7,2166.2 535.8,2165.1 541.0,2164.0 546.1,2162.9 551.3,2162.0 556.4,2161.1 561.6,2160.3 566.8,2159.5 571.9,2158.8 577.1,2158.2 582.2,2157.7 587.4,2157.3 592.5,2156.9 597.7,2156.6 602.8,2156.3 608.0,2156.2 613.1,2156.1 618.3,2156.1 623.4,2156.2 628.6,2156.3 633.8,2156.5 638.9,2156.8 644.1,2157.2 649.2,2157.7 654.4,2158.2 659.5,2158.8 664.7,2159.4 669.8,2160.2 675.0,2161.0 680.1,2161.9 685.3,2162.8 690.5,2163.8 695.6,2164.9 700.8,2166.1 705.9,2167.3 711.1,2168.6 716.2,2169.9 721.4,2171.3 726.5,2172.8 731.7,2174.4 736.8,2176.0 742.0,2177.6 747.1,2179.3 752.3,2181.1 757.5,2182.9 762.6,2184.7 767.8,2186.7 772.9,2188.6 778.1,2190.6 783.2,2192.7 788.4,2194.8 793.5,2196.9 798.7,2199.1 803.8,2201.3 809.0,2203.5 814.2,2205.8 819.3,2208.1 824.5,2210.4 829.6,2212.8 834.8,2215.2 839.9,2217.6 845.1,2220.0 850.2,2222.5 855.4,2225.0 860.5,2227.5 865.7,2230.0 870.8,2232.5 876.0,2235.0 881.2,2237.6 886.3,2240.1 891.5,2242.7 896.6,2245.2 901.8,2247.8 906.9,2250.4 912.1,2252.9 917.2,2255.5 922.4,2258.0 927.5,2260.6 932.7,2263.1 937.8,2265.7 943.0,2268.2 948.2,2270.7 953.3,2273.2 958.5,2275.7 963.6,2278.2 968.8,2280.6 973.9,2283.1 979.1,2285.5 984.2,2287.9 989.4,2290.3 994.5,2292.6 999.7,2295.0 1004.9,2297.3 1010.0,2299.6 1015.2,2301.8 1020.3,2304.0 1025.5,2306.2 1030.6,2308.4 1035.8,2310.6 1040.9,2312.7 1046.1,2314.8 1051.2,2316.8 1056.4,2318.9 1061.5,2320.9 1066.7,2322.8 1071.9,2324.8 1077.0,2326.7 1082.2,2328.5 1087.3,2330.4 1092.5,2332.2 1097.6,2333.9 1102.8,2335.7 1107.9,2337.4 1113.1,2339.0 1118.2,2340.7 1123.4,2342.3 1128.5,2343.8 1133.7,2345.4 1138.9,2346.9 1144.0,2348.3 1149.2,2349.8 1154.3,2351.2 1159.5,2352.5 1164.6,2353.9 1169.8,2355.2 1174.9,2356.4" fill="none" stroke="#ed1c24" stroke-width="5.2" stroke-linejoin="round" stroke-linecap="butt"/>
<polyline points="139.5,2367.8 144.7,2367.8 149.8,2367.8 155.0,2367.8 160.2,2367.8 165.3,2367.8 170.5,2367.8 175.7,2367.7 180.8,2367.7 186.0,2367.7 191.2,2367.7 196.3,2367.6 201.5,2367.6 206.6,2367.5 211.8,2367.5 217.0,2367.4 222.1,2367.3 227.3,2367.2 232.5,2367.1 237.6,2366.9 242.8,2366.8 248.0,2366.6 253.1,2366.3 258.3,2366.1 263.5,2365.8 268.6,2365.4 273.8,2365.0 278.9,2364.5 284.1,2363.9 289.3,2363.3 294.4,2362.6 299.6,2361.8 304.8,2360.8 309.9,2359.7 315.1,2358.5 320.3,2357.2 325.4,2355.6 330.6,2353.9 335.8,2352.0 340.9,2349.8 346.1,2347.4 351.2,2344.7 356.4,2341.7 361.6,2338.4 366.7,2334.8 371.9,2330.8 377.1,2326.4 382.2,2321.6 387.4,2316.4 392.6,2310.7 397.7,2304.6 402.9,2297.9 408.1,2290.7 413.2,2283.0 418.4,2274.7 423.5,2265.8 428.7,2256.3 433.9,2246.3 439.0,2235.6 444.2,2224.4 449.4,2212.5 454.5,2200.1 459.7,2187.0 464.9,2173.4 470.0,2159.3 475.2,2144.6 480.4,2129.5 485.5,2113.9 490.7,2097.9 495.8,2081.6 501.0,2065.0 506.2,2048.2 511.3,2031.2 516.5,2014.1 521.7,1997.0 526.8,1980.0 532.0,1963.1 537.2,1946.5 542.3,1930.2 547.5,1914.3 552.7,1898.9 557.8,1884.1 563.0,1870.0 568.1,1856.7 573.3,1844.2 578.5,1832.6 583.6,1822.0 588.8,1812.6 594.0,1804.2 599.1,1797.0 604.3,1791.1 609.5,1786.5 614.6,1783.2 619.8,1781.2 625.0,1780.5 630.1,1781.2 635.3,1783.3 640.4,1786.7 645.6,1791.4 650.8,1797.3 655.9,1804.5 661.1,1812.9 666.3,1822.5 671.4,1833.1 676.6,1844.7 681.8,1857.2 686.9,1870.6 692.1,1884.7 697.3,1899.6 702.4,1915.0 707.6,1930.9 712.7,1947.2 717.9,1963.8 723.1,1980.7 728.2,1997.7 733.4,2014.8 738.6,2031.9 743.7,2048.9 748.9,2065.7 754.1,2082.3 759.2,2098.6 764.4,2114.6 769.6,2130.1 774.7,2145.3 779.9,2159.9 785.0,2174.0 790.2,2187.6 795.4,2200.6 800.5,2213.0 805.7,2224.9 810.9,2236.1 816.0,2246.7 821.2,2256.8 826.4,2266.2 831.5,2275.1 836.7,2283.3 841.9,2291.0 847.0,2298.2 852.2,2304.8 857.4,2311.0 862.5,2316.7 867.7,2321.9 872.8,2326.6 878.0,2331.0 883.2,2335.0 888.3,2338.6 893.5,2341.8 898.7,2344.8 903.8,2347.5 909.0,2349.9 914.2,2352.0 919.3,2354.0 924.5,2355.7 929.7,2357.2 934.8,2358.6 940.0,2359.8 945.1,2360.9 950.3,2361.8 955.5,2362.6 960.6,2363.3 965.8,2364.0 971.0,2364.5 976.1,2365.0 981.3,2365.4 986.5,2365.8 991.6,2366.1 996.8,2366.4 1002.0,2366.6 1007.1,2366.8 1012.3,2366.9 1017.4,2367.1 1022.6,2367.2 1027.8,2367.3 1032.9,2367.4 1038.1,2367.5 1043.3,2367.5 1048.4,2367.6 1053.6,2367.6 1058.8,2367.7 1063.9,2367.7 1069.1,2367.7 1074.3,2367.7 1079.4,2367.8 1084.6,2367.8 1089.7,2367.8 1094.9,2367.8 1100.1,2367.8 1105.2,2367.8 1110.4,2367.8 1115.6,2367.8 1120.7,2367.8 1125.9,2367.8 1131.1,2367.8 1136.2,2367.8 1141.4,2367.8 1146.6,2367.8 1151.7,2367.8 1156.9,2367.8 1162.0,2367.8 1167.2,2367.8 1172.4,2367.8" fill="none" stroke="#0000f5" stroke-width="5.2" stroke-linejoin="round" stroke-linecap="butt"/>
<rect x="824.6" y="1841.4" width="29.1" height="20.1" fill="#0a70bf"/>
<text transform="translate(870.36,1860.6) scale(0.8221,1)" font-size="42" fill="#000" >Control E14.5</text>
<rect x="824.6" y="1918.7" width="29.1" height="19.7" fill="#dd561c"/>
<text transform="translate(874.17,1941) scale(0.8251,1)" font-size="42" fill="#000" >Twice-injected</text>
<text transform="translate(882.54,1989.8) scale(0.8191,1)" font-size="42" fill="#000" >l-NAME E16.5</text>
<rect x="1180" y="739.5" width="6" height="2.5" fill="#d9a020"/>
<rect x="1183" y="1551.8" width="6" height="2.5" fill="#d9a020"/>
<rect x="136" y="1551.8" width="6" height="2.5" fill="#5a2a80"/>
<rect x="1197" y="2369" width="6" height="3" fill="#000"/>
<rect x="132" y="2369" width="6" height="3" fill="#000"/>
<text transform="translate(119.9,43.6) scale(0.8669,1)" font-size="57.6" fill="#000" >(a) ADC distribution histogram – &#160;eNOS-/- mice</text>
<text transform="translate(168.06,864.9) scale(0.8812,1)" font-size="56.8" fill="#000" >(b) ADC distribution histogram – IL10-/- mice</text>
<text transform="translate(5.16,1672.7) scale(0.8807,1)" font-size="56.8" fill="#000" >(c) ADC distribution histogram – l-NAME injected mice</text>
<text transform="translate(53.08,98.4) scale(0.8157,1)" font-size="37.3" fill="#000" >0.20</text>
<text transform="translate(53.08,164.48) scale(0.8157,1)" font-size="37.3" fill="#000" >0.18</text>
<text transform="translate(53.08,230.56) scale(0.8157,1)" font-size="37.3" fill="#000" >0.16</text>
<text transform="translate(53.1,296.64) scale(0.8042,1)" font-size="37.3" fill="#000" >0.14</text>
<text transform="translate(53.08,362.72) scale(0.8157,1)" font-size="37.3" fill="#000" >0.12</text>
<text transform="translate(53.08,428.8) scale(0.8157,1)" font-size="37.3" fill="#000" >0.10</text>
<text transform="translate(53.08,494.88) scale(0.8157,1)" font-size="37.3" fill="#000" >0.08</text>
<text transform="translate(53.08,560.96) scale(0.8157,1)" font-size="37.3" fill="#000" >0.06</text>
<text transform="translate(53.1,627.04) scale(0.8042,1)" font-size="37.3" fill="#000" >0.04</text>
<text transform="translate(53.08,693.12) scale(0.8157,1)" font-size="37.3" fill="#000" >0.02</text>
<text transform="translate(80.21,757.2) scale(0.6947,1)" font-size="37.3" fill="#000" >0</text>
<text transform="translate(54.88,907.6) scale(0.8186,1)" font-size="37.3" fill="#000" >0.20</text>
<text transform="translate(54.88,973.14) scale(0.8186,1)" font-size="37.3" fill="#000" >0.18</text>
<text transform="translate(54.88,1038.68) scale(0.8186,1)" font-size="37.3" fill="#000" >0.16</text>
<text transform="translate(54.89,1104.22) scale(0.8070,1)" font-size="37.3" fill="#000" >0.14</text>
<text transform="translate(54.88,1169.76) scale(0.8186,1)" font-size="37.3" fill="#000" >0.12</text>
<text transform="translate(54.88,1235.3) scale(0.8186,1)" font-size="37.3" fill="#000" >0.10</text>
<text transform="translate(54.88,1300.84) scale(0.8186,1)" font-size="37.3" fill="#000" >0.08</text>
<text transform="translate(54.88,1366.38) scale(0.8186,1)" font-size="37.3" fill="#000" >0.06</text>
<text transform="translate(54.89,1431.92) scale(0.8070,1)" font-size="37.3" fill="#000" >0.04</text>
<text transform="translate(54.88,1497.46) scale(0.8186,1)" font-size="37.3" fill="#000" >0.02</text>
<text transform="translate(81.52,1562.7) scale(0.7789,1)" font-size="37.3" fill="#000" >0</text>
<text transform="translate(48.09,1730.8) scale(0.8086,1)" font-size="37.3" fill="#000" >0.20</text>
<text transform="translate(48.09,1796.48) scale(0.8086,1)" font-size="37.3" fill="#000" >0.18</text>
<text transform="translate(48.09,1862.16) scale(0.8086,1)" font-size="37.3" fill="#000" >0.16</text>
<text transform="translate(48.1,1927.84) scale(0.7972,1)" font-size="37.3" fill="#000" >0.14</text>
<text transform="translate(48.09,1993.52) scale(0.8086,1)" font-size="37.3" fill="#000" >0.12</text>
<text transform="translate(48.09,2059.2) scale(0.8086,1)" font-size="37.3" fill="#000" >0.10</text>
<text transform="translate(48.09,2124.88) scale(0.8086,1)" font-size="37.3" fill="#000" >0.08</text>
<text transform="translate(48.09,2190.56) scale(0.8086,1)" font-size="37.3" fill="#000" >0.06</text>
<text transform="translate(48.1,2256.24) scale(0.7972,1)" font-size="37.3" fill="#000" >0.04</text>
<text transform="translate(48.09,2321.92) scale(0.8086,1)" font-size="37.3" fill="#000" >0.02</text>
<text transform="translate(74.75,2387.5) scale(0.7474,1)" font-size="37.3" fill="#000" >0</text>
<ellipse cx="70.7" cy="1512.3" rx="2.2" ry="1.3" fill="#999"/>
<text class="bold" transform="translate(37.6,574.6) rotate(-90) scale(1.1997,1)" font-size="36.6">Relative Incidence</text>
<text class="bold" transform="translate(40.1,1397.43) rotate(-90) scale(1.1783,1)" font-size="36.6">Relative Incidence</text>
<text class="bold" transform="translate(29,2207.08) rotate(-90) scale(1.1942,1)" font-size="36.6">Relative Incidence</text>
<text transform="translate(115.98,779.93) scale(0.8200,1)" font-size="36.72" fill="#000" >0.4</text>
<text transform="translate(166.41,779.93) scale(0.8200,1)" font-size="36.72" fill="#000" >0.5</text>
<text transform="translate(216.84,779.93) scale(0.8200,1)" font-size="36.72" fill="#000" >0.6</text>
<text transform="translate(267.27,779.93) scale(0.8200,1)" font-size="36.72" fill="#000" >0.7</text>
<text transform="translate(317.69,779.93) scale(0.8200,1)" font-size="36.72" fill="#000" >0.8</text>
<text transform="translate(368.12,779.93) scale(0.8200,1)" font-size="36.72" fill="#000" >0.9</text>
<text transform="translate(427.56,779.93) scale(0.8200,1)" font-size="36.72" fill="#000" >1</text>
<text transform="translate(469.96,779.93) scale(0.8200,1)" font-size="36.72" fill="#000" >1.1</text>
<text transform="translate(520.39,779.93) scale(0.8200,1)" font-size="36.72" fill="#000" >1.2</text>
<text transform="translate(570.82,779.93) scale(0.8200,1)" font-size="36.72" fill="#000" >1.3</text>
<text transform="translate(621.25,779.93) scale(0.8200,1)" font-size="36.72" fill="#000" >1.4</text>
<text transform="translate(671.67,779.93) scale(0.8200,1)" font-size="36.72" fill="#000" >1.5</text>
<text transform="translate(722.1,779.93) scale(0.8200,1)" font-size="36.72" fill="#000" >1.6</text>
<text transform="translate(772.53,779.93) scale(0.8200,1)" font-size="36.72" fill="#000" >1.7</text>
<text transform="translate(822.96,779.93) scale(0.8200,1)" font-size="36.72" fill="#000" >1.8</text>
<text transform="translate(873.39,779.93) scale(0.8200,1)" font-size="36.72" fill="#000" >1.9</text>
<text transform="translate(930.06,779.93) scale(0.8200,1)" font-size="36.72" fill="#000" >2</text>
<text transform="translate(972.45,779.93) scale(0.8200,1)" font-size="36.72" fill="#000" >2.1</text>
<text transform="translate(1022.87,779.93) scale(0.8200,1)" font-size="36.72" fill="#000" >2.2</text>
<text transform="translate(1073.3,779.93) scale(0.8200,1)" font-size="36.72" fill="#000" >2.3</text>
<text transform="translate(1123.73,779.93) scale(0.8200,1)" font-size="36.72" fill="#000" >2.4</text>
<text transform="translate(1174.16,779.93) scale(0.8200,1)" font-size="36.72" fill="#000" >2.5</text>
<text transform="translate(116.08,1588.73) scale(0.8200,1)" font-size="36.72" fill="#000" >0.4</text>
<text transform="translate(166.78,1588.73) scale(0.8200,1)" font-size="36.72" fill="#000" >0.5</text>
<text transform="translate(217.49,1588.73) scale(0.8200,1)" font-size="36.72" fill="#000" >0.6</text>
<text transform="translate(268.19,1588.73) scale(0.8200,1)" font-size="36.72" fill="#000" >0.7</text>
<text transform="translate(318.9,1588.73) scale(0.8200,1)" font-size="36.72" fill="#000" >0.8</text>
<text transform="translate(369.6,1588.73) scale(0.8200,1)" font-size="36.72" fill="#000" >0.9</text>
<text transform="translate(429.86,1588.73) scale(0.8200,1)" font-size="36.72" fill="#000" >1</text>
<text transform="translate(471.99,1588.73) scale(0.8200,1)" font-size="36.72" fill="#000" >1.1</text>
<text transform="translate(522.7,1588.73) scale(0.8200,1)" font-size="36.72" fill="#000" >1.2</text>
<text transform="translate(573.4,1588.73) scale(0.8200,1)" font-size="36.72" fill="#000" >1.3</text>
<text transform="translate(624.11,1588.73) scale(0.8200,1)" font-size="36.72" fill="#000" >1.4</text>
<text transform="translate(674.81,1588.73) scale(0.8200,1)" font-size="36.72" fill="#000" >1.5</text>
<text transform="translate(725.52,1588.73) scale(0.8200,1)" font-size="36.72" fill="#000" >1.6</text>
<text transform="translate(776.22,1588.73) scale(0.8200,1)" font-size="36.72" fill="#000" >1.7</text>
<text transform="translate(826.93,1588.73) scale(0.8200,1)" font-size="36.72" fill="#000" >1.8</text>
<text transform="translate(877.63,1588.73) scale(0.8200,1)" font-size="36.72" fill="#000" >1.9</text>
<text transform="translate(934.56,1588.73) scale(0.8200,1)" font-size="36.72" fill="#000" >2</text>
<text transform="translate(977.24,1588.73) scale(0.8200,1)" font-size="36.72" fill="#000" >2.1</text>
<text transform="translate(1027.95,1588.73) scale(0.8200,1)" font-size="36.72" fill="#000" >2.2</text>
<text transform="translate(1078.65,1588.73) scale(0.8200,1)" font-size="36.72" fill="#000" >2.3</text>
<text transform="translate(1129.36,1588.73) scale(0.8200,1)" font-size="36.72" fill="#000" >2.4</text>
<text transform="translate(1180.06,1588.73) scale(0.8200,1)" font-size="36.72" fill="#000" >2.5</text>
<text transform="translate(110.48,2414.43) scale(0.8200,1)" font-size="36.72" fill="#000" >0.4</text>
<text transform="translate(161.61,2414.43) scale(0.8200,1)" font-size="36.72" fill="#000" >0.5</text>
<text transform="translate(212.74,2414.43) scale(0.8200,1)" font-size="36.72" fill="#000" >0.6</text>
<text transform="translate(263.87,2414.43) scale(0.8200,1)" font-size="36.72" fill="#000" >0.7</text>
<text transform="translate(314.99,2414.43) scale(0.8200,1)" font-size="36.72" fill="#000" >0.8</text>
<text transform="translate(366.12,2414.43) scale(0.8200,1)" font-size="36.72" fill="#000" >0.9</text>
<text transform="translate(427.36,2414.43) scale(0.8200,1)" font-size="36.72" fill="#000" >1</text>
<text transform="translate(469.36,2414.43) scale(0.8200,1)" font-size="36.72" fill="#000" >1.1</text>
<text transform="translate(520.49,2414.43) scale(0.8200,1)" font-size="36.72" fill="#000" >1.2</text>
<text transform="translate(571.62,2414.43) scale(0.8200,1)" font-size="36.72" fill="#000" >1.3</text>
<text transform="translate(622.75,2414.43) scale(0.8200,1)" font-size="36.72" fill="#000" >1.4</text>
<text transform="translate(673.87,2414.43) scale(0.8200,1)" font-size="36.72" fill="#000" >1.5</text>
<text transform="translate(725,2414.43) scale(0.8200,1)" font-size="36.72" fill="#000" >1.6</text>
<text transform="translate(776.13,2414.43) scale(0.8200,1)" font-size="36.72" fill="#000" >1.7</text>
<text transform="translate(827.26,2414.43) scale(0.8200,1)" font-size="36.72" fill="#000" >1.8</text>
<text transform="translate(878.39,2414.43) scale(0.8200,1)" font-size="36.72" fill="#000" >1.9</text>
<text transform="translate(935.96,2414.43) scale(0.8200,1)" font-size="36.72" fill="#000" >2</text>
<text transform="translate(978.85,2414.43) scale(0.8200,1)" font-size="36.72" fill="#000" >2.1</text>
<text transform="translate(1029.97,2414.43) scale(0.8200,1)" font-size="36.72" fill="#000" >2.2</text>
<text transform="translate(1081.1,2414.43) scale(0.8200,1)" font-size="36.72" fill="#000" >2.3</text>
<text transform="translate(1132.23,2414.43) scale(0.8200,1)" font-size="36.72" fill="#000" >2.4</text>
<text transform="translate(1183.36,2414.43) scale(0.8200,1)" font-size="36.72" fill="#000" >2.5</text>
<text transform="translate(445.2,2467.1) scale(0.9085,1)" font-size="44.5" fill="#000" >ADC x 10</text>
<text transform="translate(618.75,2452.8) scale(0.9500,1)" font-size="24.5" fill="#000" >-4</text>
<text transform="translate(652.6,2467.1) scale(0.9000,1)" font-size="44.5" fill="#000" >(mm</text>
<text transform="translate(733.04,2451.5) scale(0.9636,1)" font-size="23" fill="#000" >2</text>
<text transform="translate(745.8,2467.1) scale(0.9191,1)" font-size="44.5" fill="#000" >/s)</text>
</g></svg></body></html>
